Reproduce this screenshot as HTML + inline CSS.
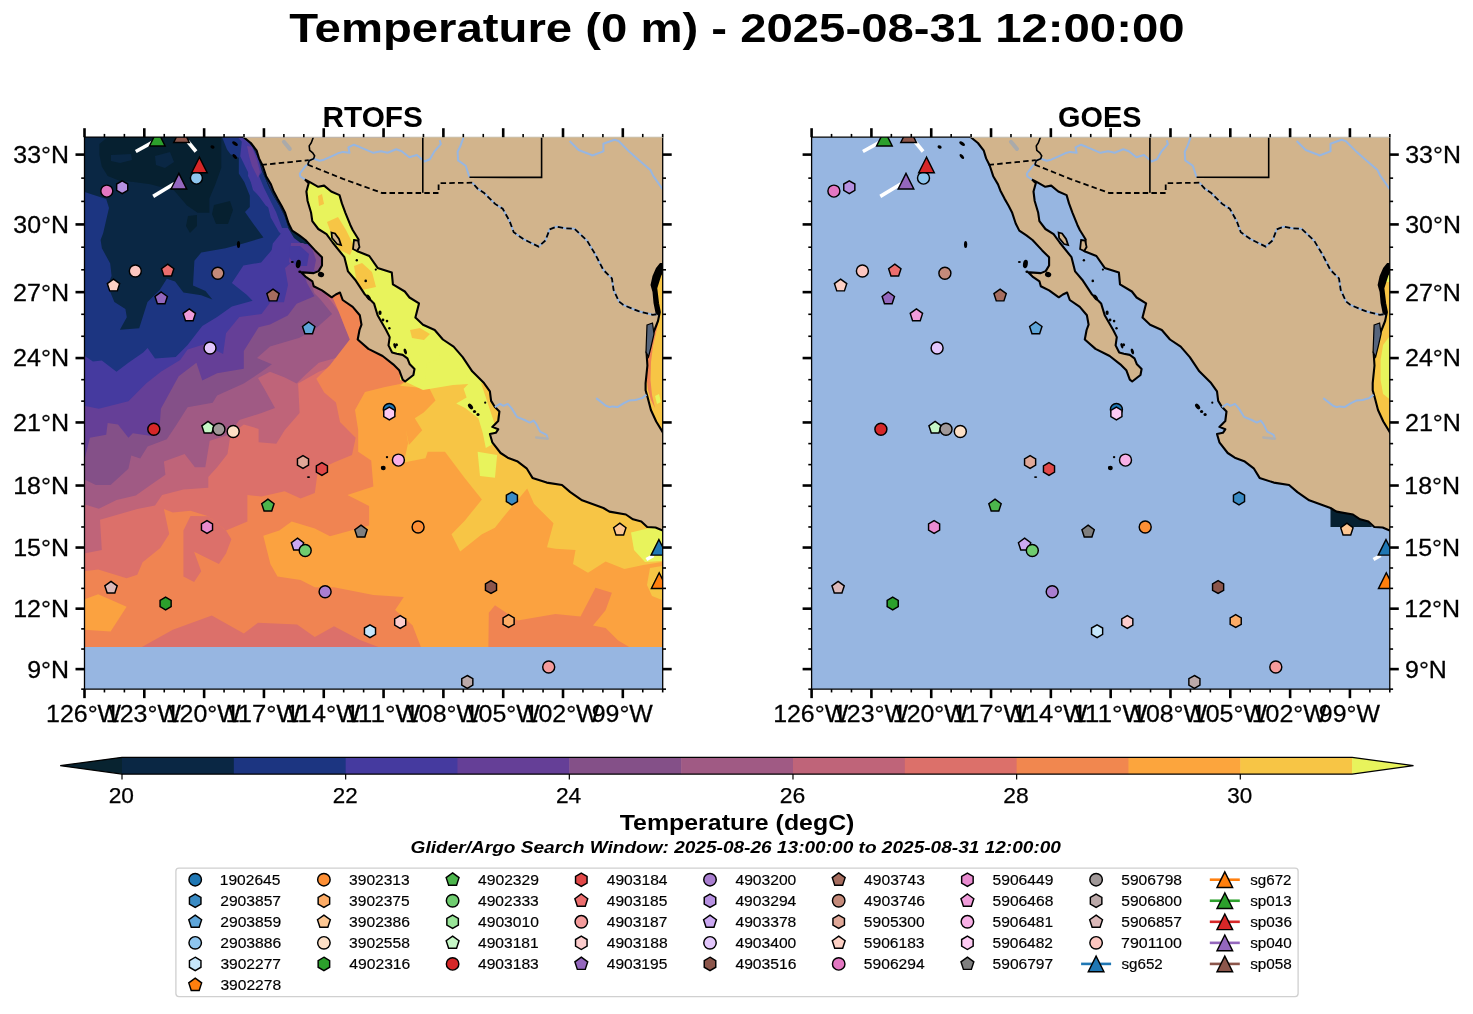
<!DOCTYPE html><html><head><meta charset="utf-8"><style>html,body{margin:0;padding:0;background:#fff;width:1473px;height:1014px;overflow:hidden} text{font-family:"Liberation Sans",sans-serif}</style></head><body><svg width="1473" height="1014" viewBox="0 0 1473 1014" style="position:absolute;left:0;top:0;will-change:transform">
<rect width="1473" height="1014" fill="#fff"/>
<text x="289.22" y="42.10" font-size="40.34" font-weight="bold" font-style="normal" fill="#000" textLength="895.27" lengthAdjust="spacingAndGlyphs">Temperature (0 m) - 2025-08-31 12:00:00</text>
<g transform="translate(0,0)">
<defs><clipPath id="clipR"><rect x="84.5" y="137.2" width="578.2" height="551.94256834465"/></clipPath></defs>
<rect x="84.5" y="137.2" width="578.2" height="551.94256834465" fill="#97b6e1"/>
<g clip-path="url(#clipR)">
<clipPath id="dataclip"><rect x="80" y="130" width="600" height="516.9"/></clipPath>
<g clip-path="url(#dataclip)">
<rect x="80" y="130" width="600" height="600" fill="#1c3581"/>
<polygon points="84.0,137.0 222.0,137.0 227.0,149.4 230.5,154.3 238.8,157.7 238.8,173.6 244.3,181.9 249.8,195.7 249.8,207.0 245.0,212.0 252.0,222.0 263.4,237.6 243.3,243.5 225.5,248.2 201.3,252.4 194.4,260.7 193.0,285.6 205.5,291.1 212.4,299.4 201.3,295.2 183.4,292.5 175.1,281.4 166.8,278.7 159.9,289.7 147.5,302.1 139.2,328.3 119.9,329.7 126.8,317.3 125.4,309.0 114.4,302.1 107.5,285.6 111.6,275.9 110.2,263.5 101.9,248.3 100.6,240.0 103.2,233.0 106.2,220.0 109.0,208.0 106.2,199.0 93.0,194.7 84.0,191.7" fill="#0a2744"/>
<polygon points="99.4,144.1 107.7,137.0 221.3,137.0 221.3,167.8 215.4,184.3 209.4,198.5 209.4,212.7 197.6,212.7 187.0,205.6 173.9,190.3 159.7,186.7 150.3,184.3 133.7,182.0 119.5,180.8 107.7,176.1 101.8,166.6 99.4,154.8" fill="#062030"/>
<polygon points="111.0,155.0 131.0,154.0 132.0,160.0 120.0,163.0 111.0,161.0" fill="#0a2744"/>
<polygon points="155.0,156.0 170.0,152.0 174.0,162.0 165.0,168.0 156.0,165.0" fill="#0a2744"/>
<polygon points="214.0,205.0 230.0,201.0 233.0,210.0 228.0,224.0 216.0,224.0 212.0,214.0" fill="#062030"/>
<polygon points="188.0,216.0 197.0,215.0 197.0,226.0 190.0,233.0 186.0,226.0" fill="#062030"/>
<polygon points="84.0,355.4 92.9,361.4 101.8,360.6 116.5,371.7 128.4,362.8 143.2,352.5 147.6,348.0 155.0,358.4 175.7,356.9 187.6,345.1 202.3,325.9 217.1,317.0 231.9,306.6 252.6,300.7 246.7,294.8 231.9,283.0 243.4,265.6 261.1,262.4 272.3,249.5 286.8,239.9 278.8,231.8 270.7,217.4 267.5,204.5 253.0,190.0 248.2,172.4 240.2,156.3 241.8,141.8 240.0,130.0 720.0,130.0 720.0,700.0 80.0,700.0" fill="#453a9f"/>
<polygon points="237.3,137.0 246.8,146.5 249.2,160.7 248.0,176.0 256.3,192.6 265.7,205.6 272.8,210.4 282.3,231.7 272.8,243.5 270.5,257.0 300.0,257.0 300.0,137.0" fill="#453a9f"/>
<polygon points="247.0,146.0 252.0,147.0 257.0,160.0 260.0,172.0 258.0,178.0 252.0,166.0 249.0,156.0" fill="#653f97"/>
<polygon points="243.0,137.0 252.0,146.0 258.0,158.0 262.0,172.0 268.0,186.0 273.0,196.0 279.0,206.0 284.0,216.0 288.0,228.0 294.0,238.0 302.0,244.0 310.0,244.0 300.0,236.0 290.0,226.0 284.0,212.0 276.0,198.0 269.0,184.0 263.0,170.0 258.0,156.0 252.0,144.0 246.0,137.0" fill="#0a2744"/>
<polygon points="262.0,172.0 268.0,186.0 273.0,196.0 279.0,206.0 284.0,216.0 288.0,228.0 282.0,228.0 276.0,212.0 270.0,200.0 264.0,188.0 259.0,176.0" fill="#1c3581"/>
<polygon points="84.0,405.7 98.8,408.7 128.4,401.3 146.1,383.6 160.9,371.7 180.2,359.9 187.6,349.5 206.8,343.6 217.1,351.0 223.1,354.0 226.0,333.3 239.3,317.0 261.5,314.0 270.4,302.2 284.0,302.2 288.0,285.0 285.0,268.0 292.0,262.0 303.0,250.0 310.0,246.0 320.0,240.0 720.0,130.0 720.0,700.0 80.0,700.0" fill="#653f97"/>
<polygon points="84.0,420.0 84.0,461.4 89.9,437.8 106.2,434.8 107.7,423.0 118.0,424.4 128.4,437.8 132.8,433.3 153.5,436.3 159.4,430.0 160.9,408.7 178.7,376.2 196.4,362.8 202.3,380.6 217.1,373.2 243.8,368.8 243.8,351.0 258.6,327.3 270.0,324.4 287.8,315.5 296.6,303.7 314.4,296.3 307.0,283.0 303.0,270.0 310.0,250.0 720.0,130.0 720.0,700.0 80.0,700.0" fill="#845088"/>
<polygon points="84.0,479.2 95.8,485.1 110.6,485.1 128.4,468.8 131.3,455.5 140.2,458.5 147.6,446.6 166.8,439.2 175.7,425.9 187.6,407.2 212.7,402.8 217.1,395.4 243.8,383.6 261.5,371.7 271.9,364.3 257.0,358.0 270.0,346.6 299.6,337.7 317.3,327.3 332.1,314.0 320.3,299.2 314.4,293.3 310.0,280.0 315.0,260.0 720.0,130.0 720.0,700.0 80.0,700.0" fill="#a05a84"/>
<polygon points="84.0,504.3 98.8,508.8 116.5,499.9 135.8,495.4 150.6,485.1 165.4,474.7 163.9,461.4 184.6,454.0 194.9,467.3 205.3,467.3 209.7,440.7 229.0,434.8 239.3,420.0 261.5,413.1 275.0,408.0 265.0,390.0 258.0,378.0 270.0,371.7 284.8,377.6 296.6,383.6 305.5,374.7 318.8,362.8 339.5,356.9 352.8,343.6 345.4,328.8 339.5,312.5 332.1,302.2 323.3,291.8 318.0,270.0 720.0,130.0 720.0,700.0 80.0,700.0" fill="#bf6479"/>
<polygon points="84.0,553.5 101.8,549.9 100.0,519.7 137.3,509.1 155.0,505.5 162.1,494.9 183.4,489.5 208.3,487.8 208.3,477.1 217.1,467.3 227.5,454.0 230.5,434.8 243.8,424.4 258.6,428.9 258.6,442.2 276.3,443.7 284.8,430.0 299.6,413.1 298.1,383.6 318.8,371.7 341.0,362.8 358.8,349.5 349.9,328.8 344.0,306.6 335.1,297.8 329.2,294.8 325.0,275.0 720.0,130.0 720.0,700.0 80.0,700.0" fill="#dc706a"/>
<polygon points="84.0,571.2 98.2,569.4 126.6,578.3 137.3,574.8 142.6,562.3 160.3,548.1 169.2,533.9 163.9,509.1 172.8,512.6 190.5,510.8 208.3,516.2 226.0,530.4 247.4,521.5 247.4,494.9 261.6,496.6 284.6,491.3 300.6,498.4 314.8,493.1 318.0,470.0 335.0,462.0 352.0,455.0 355.7,437.8 340.0,422.0 336.0,402.4 324.2,392.5 316.3,378.8 330.1,365.0 349.8,339.4 338.0,309.8 332.1,296.3 330.0,280.0 720.0,130.0 720.0,700.0 80.0,700.0" fill="#f08452"/>
<polygon points="183.4,530.4 183.4,576.5 194.1,581.9 201.2,571.2 194.1,551.7 218.9,564.1 226.0,553.5 231.4,539.2 226.0,530.4 208.3,516.2 190.5,516.0" fill="#dc706a"/>
<polygon points="84.0,599.6 98.2,594.3 126.6,606.7 110.6,631.6 84.0,629.8" fill="#fba240"/>
<polygon points="358.2,430.0 358.2,451.7 371.2,460.4 373.4,486.4 347.4,495.1 369.1,506.0 369.1,525.5 330.0,536.3 314.8,528.6 291.7,521.5 279.3,530.4 263.3,535.7 270.4,564.1 277.5,576.5 300.6,580.1 314.8,587.2 334.0,587.2 373.4,594.9 403.8,597.1 395.1,610.1 412.5,625.3 421.1,647.5 488.4,647.5 488.8,612.8 495.0,605.3 517.7,620.4 555.4,614.1 580.5,616.6 595.5,587.7 611.9,592.7 605.6,610.3 593.0,625.4 605.6,627.9 618.2,640.5 630.0,647.5 700.0,647.5 700.0,130.0 420.0,130.0 405.0,382.0 400.0,384.0 385.0,387.0 365.0,392.0 355.0,410.0" fill="#fba240"/>
<polygon points="140.8,647.6 172.8,629.8 211.8,615.6 243.8,633.4 258.0,622.7 297.1,624.5 314.8,636.9 334.0,626.2 360.0,640.0 380.0,647.6" fill="#dc706a"/>
<polygon points="406.0,430.0 408.1,443.0 403.8,462.6 425.5,458.2 427.7,451.7 445.0,451.7 464.5,477.7 481.9,499.4 464.5,521.1 451.5,534.2 460.2,551.5 481.9,534.2 494.9,527.7 503.6,516.8 527.2,488.4 534.0,503.8 547.0,516.8 553.5,523.3 547.0,547.2 555.4,548.8 575.5,550.0 573.0,563.9 588.0,572.7 605.6,561.4 624.4,568.9 643.3,565.1 662.0,562.0 700.0,562.0 700.0,130.0 410.0,130.0 405.0,382.0 400.0,385.8 414.8,387.3 429.6,388.8 435.5,400.6 423.7,412.4 414.8,418.3 422.2,430.2 408.9,445.0" fill="#f7c545"/>
<polygon points="291.0,243.0 303.0,243.0 316.0,250.0 321.0,260.0 318.0,272.0 300.0,273.0 289.0,262.0" fill="#653f97"/>
<polygon points="290.0,246.0 300.0,246.0 309.0,254.0 307.0,266.0 296.0,266.0 289.0,257.0" fill="#453a9f"/>
<polygon points="312.0,248.0 318.0,252.0 322.0,262.0 319.0,271.0 314.0,270.0 316.0,260.0" fill="#845088"/>
<polygon points="305.2,179.7 308.7,183.3 306.4,191.5 307.6,201.0 311.1,212.8 312.3,221.1 318.3,229.0 326.5,234.1 332.6,242.5 344.4,257.2 348.0,271.4 355.1,279.7 364.5,293.9 374.0,303.4 377.6,315.2 386.1,330.0 389.7,337.1 388.5,345.4 392.1,352.5 396.8,353.7 402.7,354.9 407.4,358.4 409.8,364.3 414.5,369.0 413.4,375.0 405.1,381.5 423.0,390.0 453.0,385.0 484.0,383.1 472.2,371.3 462.7,357.1 453.6,346.6 442.9,339.5 434.7,330.0 423.0,324.7 415.4,317.6 419.0,303.4 409.5,297.5 404.8,291.5 392.9,284.4 391.8,272.6 377.6,267.9 369.3,256.0 357.4,251.3 358.6,239.5 352.7,230.0 350.2,224.7 345.4,212.8 341.9,203.4 339.5,195.1 331.2,191.5 324.1,185.6 318.2,186.8 309.9,182.1" fill="#e8f35c"/>
<polygon points="400.0,300.0 408.9,300.0 413.3,311.8 414.8,322.2 434.0,332.5 441.4,344.4 438.5,359.2 426.6,363.6 425.1,379.9 417.8,382.8 400.0,380.0" fill="#e8f35c"/>
<polygon points="456.2,368.0 463.6,369.5 469.5,382.8 463.6,388.8 466.6,397.6 456.2,403.6 465.1,408.0 478.4,418.3 482.8,433.1 485.8,447.9 500.0,440.0 480.0,380.0 470.0,360.0" fill="#e8f35c"/>
<polygon points="327.0,222.0 338.0,217.0 346.0,230.0 354.0,246.0 350.0,255.0 340.0,250.0 332.0,236.0" fill="#f7c545"/>
<polygon points="354.0,266.0 362.0,263.0 372.0,272.0 376.0,287.0 362.0,290.0 356.0,278.0" fill="#f7c545"/>
<polygon points="318.0,196.0 322.0,194.0 324.0,204.0 319.0,206.0" fill="#f7c545"/>
<polygon points="410.0,330.0 420.0,328.0 430.0,334.0 424.0,340.0 412.0,338.0" fill="#f7c545"/>
<polygon points="422.0,298.0 432.0,297.0 444.0,310.0 440.0,323.0 428.0,316.0" fill="#f7c545"/>
<polygon points="465.0,356.0 478.0,354.0 487.0,362.0 476.0,368.0" fill="#f7c545"/>
<polygon points="477.6,451.7 497.1,455.0 495.0,477.7 480.0,476.0" fill="#e8f35c"/>
<polygon points="650.0,568.0 662.0,566.0 662.0,600.0 652.0,596.0 647.0,585.0" fill="#f7c545"/>
<polygon points="631.0,532.5 662.0,525.0 662.0,561.0 645.0,562.0 634.0,550.0" fill="#e8f35c"/>
</g>
<polygon points="663.3,268.0 659.8,276.6 656.2,288.2 658.0,303.2 659.8,312.1 658.0,321.0 653.3,333.0 650.0,341.0 646.5,352.2 647.4,365.5 645.6,383.2 645.6,390.3 647.4,396.5 650.9,410.0 656.2,421.5 663.3,433.1 665.0,433.1 665.0,268.0" fill="#f7c545"/>
<polygon points="655,322 651,334 648,348 646.5,362 646.5,378 648,390 651,400 655,408 652,395 650.5,380 651,362 653,346 656,333 658,324" fill="#f08452"/>
<polygon points="655,396 659,394 661,402 657,404" fill="#e8f35c"/>
<path d="M243.7,136.0 L243.7,137.3 L250.8,143.0 L256.7,150.7 L259.0,158.4 L262.6,165.5 L266.1,176.2 L270.9,184.4 L273.2,190.4 L277.4,198.6 L281.5,205.7 L285.1,212.8 L288.6,223.5 L292.2,230.6 L299.3,235.3 L305.4,240.0 L315.1,250.4 L322.0,257.3 L322.0,265.5 L318.6,271.1 L313.7,273.1 L302.7,272.4 L301.3,272.6 L305.4,276.6 L312.4,281.4 L313.7,286.2 L322.0,290.4 L331.7,297.3 L335.8,294.5 L340.0,292.5 L342.7,300.0 L352.7,306.9 L359.8,315.2 L361.5,324.7 L359.5,330.0 L357.7,339.5 L368.4,348.9 L382.6,356.0 L393.2,364.3 L399.2,370.2 L402.7,379.7 L405.1,381.5 L413.4,375.0 L414.5,369.0 L409.8,364.3 L407.4,358.4 L402.7,354.9 L396.8,353.7 L392.1,352.5 L388.5,345.4 L389.7,337.1 L386.1,330.0 L377.6,315.2 L374.0,303.4 L364.5,293.9 L355.1,279.7 L348.0,271.4 L344.4,257.2 L332.6,242.5 L326.5,234.1 L318.3,229.0 L312.3,221.1 L311.1,212.8 L307.6,201.0 L306.4,191.5 L308.7,183.3 L305.2,179.7 L309.9,182.1 L318.2,186.8 L324.1,185.6 L331.2,191.5 L339.5,195.1 L341.9,203.4 L345.4,212.8 L350.2,224.7 L352.7,230.0 L358.6,239.5 L357.4,251.3 L369.3,256.0 L377.6,267.9 L391.8,272.6 L392.9,284.4 L404.8,291.5 L409.5,297.5 L419.0,303.4 L415.4,317.6 L423.0,324.7 L434.7,330.0 L442.9,339.5 L453.6,346.6 L462.7,357.1 L472.2,371.3 L484.0,383.1 L489.9,391.4 L491.1,400.9 L494.7,406.8 L499.4,411.5 L498.2,421.0 L492.3,426.9 L498.2,429.3 L495.8,432.8 L489.9,434.0 L492.3,442.3 L500.6,453.0 L507.7,457.7 L517.1,461.2 L526.6,468.3 L532.5,477.9 L546.7,482.6 L562.0,485.0 L570.3,492.1 L582.1,500.3 L603.4,508.0 L609.4,511.6 L625.9,514.5 L633.0,519.3 L641.3,521.6 L647.2,527.0 L655.5,527.5 L665.0,531.5 L665.0,433.1 L663.3,433.1 L656.2,421.5 L650.9,410.0 L647.4,396.5 L645.6,390.3 L645.6,383.2 L647.4,365.5 L646.5,352.2 L650.0,341.0 L653.3,333.0 L658.0,321.0 L659.8,312.1 L658.0,303.2 L656.2,288.2 L659.8,276.6 L663.3,268.0 L665.0,268.0 L665.0,136.0Z" fill="#d2b48c" stroke="#000" stroke-width="2.1" stroke-linejoin="round"/>
<polyline points="304.8,179.4 300.3,176.5 299.8,173.5 302.8,169.6 305.8,165.6 307.7,164.7 309.2,160.7 313.6,158.7 319.6,160.7 324.0,159.7 330.4,156.8 338.0,153.3 343.1,151.9 349.5,152.8 348.4,147.4 353.9,144.7 359.3,146.8 373.4,152.8 381.0,151.2 387.5,152.8 396.2,149.3 401.7,151.2 409.3,157.2 416.9,155.0 424.5,161.5 429.9,159.3 434.2,151.7 440.8,144.1 439.7,140.3" fill="none" stroke="#97b6e1" stroke-width="2" stroke-linejoin="round"/>
<polyline points="469.5,177.3 465.7,165.8 458.1,160.4 457.6,151.7 460.3,146.3 463.6,137.1" fill="none" stroke="#97b6e1" stroke-width="2" stroke-linejoin="round"/>
<polyline points="569.6,141.0 578.6,150.0 589.6,154.2 592.4,155.5 603.4,151.4 603.4,143.8 614.5,139.7 618.6,141.0 629.7,152.1 639.3,160.4 650.4,170.0 653.1,175.6 662.8,189.4" fill="none" stroke="#97b6e1" stroke-width="2" stroke-linejoin="round"/>
<polyline points="494.9,407.1 500.1,403.9 503.3,405.8 507.8,403.9 511.7,408.4 516.9,416.8 524.6,420.0 529.8,422.6 533.6,420.6 536.2,423.9 540.1,431.6 546.5,434.8 547.8,438.7" fill="none" stroke="#97b6e1" stroke-width="2" stroke-linejoin="round"/>
<polyline points="596.2,398.1 605.9,405.8 609.7,407.1 612.3,406.4 617.5,407.1 623.9,403.2 629.1,400.6 635.5,400.0 642.0,398.1 646.5,394.8" fill="none" stroke="#97b6e1" stroke-width="2" stroke-linejoin="round"/>
<polyline points="472.3,182.7 477.7,188.7 484.2,193.0 495.1,203.9 502.7,208.7 509.6,221.1 513.7,232.2 523.4,239.1 538.6,246.6 545.5,240.4 549.6,229.4 556.5,226.6 564.8,228.3 574.4,228.7 586.9,240.4 595.2,254.2 603.4,270.0 611.9,278.4 613.6,289.9 619.0,301.5 623.4,305.0 638.5,311.2 652.7,314.8 658.9,313.9" fill="none" stroke="#97b6e1" stroke-width="2" stroke-linejoin="round"/>
<polyline points="283.9,141.8 289.8,148.9" fill="none" stroke="#aaaaaa" stroke-width="4" stroke-linecap="round"/>
<polyline points="536.2,437.4 547.8,438.7" fill="none" stroke="#b0b0b0" stroke-width="2.5" stroke-linecap="round"/>
<polyline points="313.8,136.0 311.2,143.0 309.2,145.9 309.7,150.4 312.7,152.8 314.6,155.8 313.6,158.7 309.2,160.7 307.7,164.7" fill="none" stroke="#000" stroke-width="1.6"/>
<polyline points="422.8,137.0 422.8,192.8" fill="none" stroke="#000" stroke-width="1.6"/>
<polyline points="541.6,137.0 541.6,177.4 469.5,177.3" fill="none" stroke="#000" stroke-width="1.6"/>
<polyline points="261.4,164.9 308.7,160.2" fill="none" stroke="#000" stroke-width="1.8" stroke-dasharray="5.5,3.2"/>
<polyline points="307.7,164.7 343.0,178.9 382.1,193.0 438.6,193.0 438.6,183.2 472.3,182.7 477.7,188.7 484.2,193.0 495.1,203.9 502.7,208.7 509.6,221.1 513.7,232.2 523.4,239.1 538.6,246.6 545.5,240.4 549.6,229.4 556.5,226.6 564.8,228.3 574.4,228.7 586.9,240.4 595.2,254.2 603.4,270.0 611.9,278.4 613.6,289.9 619.0,301.5 623.4,305.0 638.5,311.2 652.7,314.8 658.9,313.9" fill="none" stroke="#000" stroke-width="1.8" stroke-dasharray="5.5,3.2"/>
<ellipse cx="212.5" cy="147.0" rx="2.2" ry="1.6" transform="rotate(30 212.5 147.0)" fill="#000"/>
<ellipse cx="235.0" cy="143.6" rx="3.2" ry="1.6" transform="rotate(35 235.0 143.6)" fill="#000"/>
<ellipse cx="234.8" cy="156.5" rx="3.0" ry="1.5" transform="rotate(50 234.8 156.5)" fill="#000"/>
<ellipse cx="238.5" cy="244.6" rx="1.6" ry="3.5" transform="rotate(0 238.5 244.6)" fill="#000"/>
<ellipse cx="298.3" cy="264.0" rx="2.4" ry="4.2" transform="rotate(10 298.3 264.0)" fill="#000"/>
<ellipse cx="292.3" cy="262.1" rx="1.5" ry="1.0" transform="rotate(0 292.3 262.1)" fill="#000"/>
<ellipse cx="299.9" cy="271.7" rx="1.6" ry="1.2" transform="rotate(0 299.9 271.7)" fill="#000"/>
<ellipse cx="321.0" cy="274.5" rx="3.2" ry="2.6" transform="rotate(20 321.0 274.5)" fill="#000"/>
<ellipse cx="383.3" cy="468.0" rx="2.4" ry="2.2" transform="rotate(0 383.3 468.0)" fill="#000"/>
<ellipse cx="387.0" cy="457.1" rx="1.2" ry="1.2" transform="rotate(0 387.0 457.1)" fill="#000"/>
<ellipse cx="308.5" cy="477.1" rx="1.6" ry="0.9" transform="rotate(0 308.5 477.1)" fill="#000"/>
<ellipse cx="382.3" cy="467.7" rx="1.4" ry="1.4" transform="rotate(0 382.3 467.7)" fill="#000"/>
<ellipse cx="356.8" cy="260.2" rx="1.2" ry="1.2" transform="rotate(0 356.8 260.2)" fill="#000"/>
<ellipse cx="375.8" cy="269.6" rx="1.1" ry="1.1" transform="rotate(0 375.8 269.6)" fill="#000"/>
<ellipse cx="365.7" cy="280.9" rx="1.3" ry="1.3" transform="rotate(0 365.7 280.9)" fill="#000"/>
<ellipse cx="368.5" cy="297.5" rx="1.8" ry="3.2" transform="rotate(-35 368.5 297.5)" fill="#000"/>
<ellipse cx="380.0" cy="312.8" rx="1.6" ry="2.2" transform="rotate(0 380.0 312.8)" fill="#000"/>
<ellipse cx="383.0" cy="320.0" rx="1.4" ry="1.4" transform="rotate(0 383.0 320.0)" fill="#000"/>
<ellipse cx="387.0" cy="321.1" rx="1.3" ry="1.3" transform="rotate(0 387.0 321.1)" fill="#000"/>
<ellipse cx="389.4" cy="328.2" rx="1.2" ry="1.2" transform="rotate(0 389.4 328.2)" fill="#000"/>
<ellipse cx="396.5" cy="344.8" rx="1.5" ry="1.5" transform="rotate(0 396.5 344.8)" fill="#000"/>
<ellipse cx="394.8" cy="345.8" rx="1.3" ry="2.8" transform="rotate(-20 394.8 345.8)" fill="#000"/>
<ellipse cx="405.3" cy="351.5" rx="1.5" ry="3.0" transform="rotate(-20 405.3 351.5)" fill="#000"/>
<ellipse cx="470.5" cy="406.5" rx="2.0" ry="3.2" transform="rotate(-40 470.5 406.5)" fill="#000"/>
<ellipse cx="474.5" cy="411.5" rx="1.6" ry="1.6" transform="rotate(0 474.5 411.5)" fill="#000"/>
<ellipse cx="478.0" cy="414.5" rx="1.6" ry="1.5" transform="rotate(0 478.0 414.5)" fill="#000"/>
<ellipse cx="485.2" cy="402.7" rx="1.1" ry="1.1" transform="rotate(0 485.2 402.7)" fill="#000"/>
<polygon points="331.5,232.5 335.0,233.5 339.0,239 341.0,245 337.0,244 332.0,238" fill="#d2b48c" stroke="#000" stroke-width="1.8"/>
<polygon points="354.0,240 358.0,240.5 359.5,247 357.0,251 353.0,249" fill="#d2b48c" stroke="#000" stroke-width="1.8"/>
<polygon points="660.0,263.0 663.5,263.0 663.5,272.0 659.5,277.0 656.2,288.0 658.0,303.0 659.8,312.0 658.5,316.0 655.5,313.0 653.5,303.0 652.5,292.0 650.5,285.0 652.5,276.0 656.0,268.0" fill="#000"/>
<polygon points="647.0,325.0 652.5,323.0 654.0,334.0 651.0,347.0 648.5,357.0 646.0,352.0 646.5,338.0" fill="#56657c" stroke="#000" stroke-width="1.2"/>
<polyline points="135.8,151.5 157.3,139.7" fill="none" stroke="#fff" stroke-width="3.6"/>
<polyline points="187.8,141.5 196.0,151.5" fill="none" stroke="#fff" stroke-width="3.6"/>
<polyline points="153.2,196.4 174.5,183.5" fill="none" stroke="#fff" stroke-width="3.6"/>
<polyline points="646.4,559.5 653.5,555.5" fill="none" stroke="#fff" stroke-width="3.6"/>
<polygon points="157.30,130.30 149.50,145.90 165.10,145.90" fill="#2ca02c" stroke="#000" stroke-width="1.45" stroke-linejoin="miter"/>
<polygon points="181.50,126.80 173.70,142.40 189.30,142.40" fill="#8c564b" stroke="#000" stroke-width="1.45" stroke-linejoin="miter"/>
<circle cx="196.40" cy="178.10" r="6.00" fill="#8ec5ee" stroke="#000" stroke-width="1.45"/>
<polygon points="199.40,157.20 191.60,172.80 207.20,172.80" fill="#d62728" stroke="#000" stroke-width="1.45" stroke-linejoin="miter"/>
<polygon points="178.90,173.40 171.10,189.00 186.70,189.00" fill="#9467bd" stroke="#000" stroke-width="1.45" stroke-linejoin="miter"/>
<circle cx="106.80" cy="191.10" r="6.00" fill="#e377c2" stroke="#000" stroke-width="1.45"/>
<polygon points="122.20,180.80 127.74,184.00 127.74,190.40 122.20,193.60 116.66,190.40 116.66,184.00" fill="#b690e0" stroke="#000" stroke-width="1.45" stroke-linejoin="miter"/>
<circle cx="135.30" cy="271.00" r="6.00" fill="#fcc6c0" stroke="#000" stroke-width="1.45"/>
<polygon points="167.70,264.20 173.88,268.69 171.52,275.96 163.88,275.96 161.52,268.69" fill="#ec6e6e" stroke="#000" stroke-width="1.45" stroke-linejoin="miter"/>
<circle cx="217.80" cy="273.20" r="6.00" fill="#c48a7a" stroke="#000" stroke-width="1.45"/>
<polygon points="113.50,279.10 119.68,283.59 117.32,290.86 109.68,290.86 107.32,283.59" fill="#fdd0c4" stroke="#000" stroke-width="1.45" stroke-linejoin="miter"/>
<polygon points="161.20,292.00 167.38,296.49 165.02,303.76 157.38,303.76 155.02,296.49" fill="#9467bd" stroke="#000" stroke-width="1.45" stroke-linejoin="miter"/>
<polygon points="273.00,289.10 279.18,293.59 276.82,300.86 269.18,300.86 266.82,293.59" fill="#a66d5f" stroke="#000" stroke-width="1.45" stroke-linejoin="miter"/>
<polygon points="189.30,308.90 195.48,313.39 193.12,320.66 185.48,320.66 183.12,313.39" fill="#f09cda" stroke="#000" stroke-width="1.45" stroke-linejoin="miter"/>
<polygon points="308.70,322.00 314.88,326.49 312.52,333.76 304.88,333.76 302.52,326.49" fill="#5ea5d9" stroke="#000" stroke-width="1.45" stroke-linejoin="miter"/>
<circle cx="210.00" cy="347.90" r="6.00" fill="#e2c6fb" stroke="#000" stroke-width="1.45"/>
<circle cx="153.80" cy="429.30" r="6.00" fill="#d62728" stroke="#000" stroke-width="1.45"/>
<polygon points="208.00,421.30 214.18,425.79 211.82,433.06 204.18,433.06 201.82,425.79" fill="#c6f7c6" stroke="#000" stroke-width="1.45" stroke-linejoin="miter"/>
<circle cx="218.90" cy="429.30" r="6.00" fill="#a09898" stroke="#000" stroke-width="1.45"/>
<circle cx="233.20" cy="431.50" r="6.00" fill="#fde0c6" stroke="#000" stroke-width="1.45"/>
<polygon points="303.00,455.60 308.54,458.80 308.54,465.20 303.00,468.40 297.46,465.20 297.46,458.80" fill="#e0a898" stroke="#000" stroke-width="1.45" stroke-linejoin="miter"/>
<polygon points="321.90,462.60 327.44,465.80 327.44,472.20 321.90,475.40 316.36,472.20 316.36,465.80" fill="#e14848" stroke="#000" stroke-width="1.45" stroke-linejoin="miter"/>
<polygon points="267.90,499.20 274.08,503.69 271.72,510.96 264.08,510.96 261.72,503.69" fill="#4cb54c" stroke="#000" stroke-width="1.45" stroke-linejoin="miter"/>
<polygon points="207.00,520.60 212.54,523.80 212.54,530.20 207.00,533.40 201.46,530.20 201.46,523.80" fill="#e98bd0" stroke="#000" stroke-width="1.45" stroke-linejoin="miter"/>
<polygon points="361.00,525.20 367.18,529.69 364.82,536.96 357.18,536.96 354.82,529.69" fill="#7f7f7f" stroke="#000" stroke-width="1.45" stroke-linejoin="miter"/>
<polygon points="297.50,538.20 303.68,542.69 301.32,549.96 293.68,549.96 291.32,542.69" fill="#cba8f2" stroke="#000" stroke-width="1.45" stroke-linejoin="miter"/>
<circle cx="305.20" cy="550.40" r="6.00" fill="#6fcc6f" stroke="#000" stroke-width="1.45"/>
<circle cx="325.10" cy="591.80" r="6.00" fill="#a97ed0" stroke="#000" stroke-width="1.45"/>
<polygon points="111.00,581.30 117.18,585.79 114.82,593.06 107.18,593.06 104.82,585.79" fill="#dbb9b9" stroke="#000" stroke-width="1.45" stroke-linejoin="miter"/>
<polygon points="165.60,597.10 171.14,600.30 171.14,606.70 165.60,609.90 160.06,606.70 160.06,600.30" fill="#2ca02c" stroke="#000" stroke-width="1.45" stroke-linejoin="miter"/>
<polygon points="370.00,624.80 375.54,628.00 375.54,634.40 370.00,637.60 364.46,634.40 364.46,628.00" fill="#c5e6fb" stroke="#000" stroke-width="1.45" stroke-linejoin="miter"/>
<circle cx="389.30" cy="409.40" r="6.00" fill="#1f77b4" stroke="#000" stroke-width="1.45"/>
<polygon points="389.30,407.10 394.84,410.30 394.84,416.70 389.30,419.90 383.76,416.70 383.76,410.30" fill="#fdcaf2" stroke="#000" stroke-width="1.45" stroke-linejoin="miter"/>
<circle cx="398.40" cy="460.10" r="6.00" fill="#f8b0e6" stroke="#000" stroke-width="1.45"/>
<polygon points="511.90,492.00 517.44,495.20 517.44,501.60 511.90,504.80 506.36,501.60 506.36,495.20" fill="#3a8bc4" stroke="#000" stroke-width="1.45" stroke-linejoin="miter"/>
<circle cx="418.10" cy="527.00" r="6.00" fill="#fd8f35" stroke="#000" stroke-width="1.45"/>
<polygon points="619.80,523.20 625.98,527.69 623.62,534.96 615.98,534.96 613.62,527.69" fill="#fdc793" stroke="#000" stroke-width="1.45" stroke-linejoin="miter"/>
<polygon points="658.90,539.50 651.10,555.10 666.70,555.10" fill="#1f77b4" stroke="#000" stroke-width="1.45" stroke-linejoin="miter"/>
<polygon points="659.20,572.80 651.40,588.40 667.00,588.40" fill="#ff7f0e" stroke="#000" stroke-width="1.45" stroke-linejoin="miter"/>
<polygon points="491.00,580.70 496.54,583.90 496.54,590.30 491.00,593.50 485.46,590.30 485.46,583.90" fill="#8c564b" stroke="#000" stroke-width="1.45" stroke-linejoin="miter"/>
<polygon points="400.20,615.60 405.74,618.80 405.74,625.20 400.20,628.40 394.66,625.20 394.66,618.80" fill="#fccccc" stroke="#000" stroke-width="1.45" stroke-linejoin="miter"/>
<polygon points="508.60,614.70 514.14,617.90 514.14,624.30 508.60,627.50 503.06,624.30 503.06,617.90" fill="#fdac66" stroke="#000" stroke-width="1.45" stroke-linejoin="miter"/>
<circle cx="548.70" cy="667.00" r="6.00" fill="#f49b9b" stroke="#000" stroke-width="1.45"/>
<polygon points="467.30,675.50 472.84,678.70 472.84,685.10 467.30,688.30 461.76,685.10 461.76,678.70" fill="#bba9a9" stroke="#000" stroke-width="1.45" stroke-linejoin="miter"/>
</g>
<polyline points="662.7,137.2 662.7,689.14256834465 84.5,689.14256834465 84.5,137.2 243.3,137.2" fill="none" stroke="#000" stroke-width="1.3"/>
<line x1="243.3" y1="137.2" x2="663.35" y2="137.2" stroke="#c9c2b6" stroke-width="1.0"/>
<line x1="84.50" y1="137.2" x2="84.50" y2="128.2" stroke="#000" stroke-width="2.6"/>
<line x1="84.50" y1="689.14256834465" x2="84.50" y2="698.14256834465" stroke="#000" stroke-width="2.6"/>
<line x1="104.44" y1="137.2" x2="104.44" y2="133.89999999999998" stroke="#000" stroke-width="1.6"/>
<line x1="104.44" y1="689.14256834465" x2="104.44" y2="692.44256834465" stroke="#000" stroke-width="1.6"/>
<line x1="124.38" y1="137.2" x2="124.38" y2="133.89999999999998" stroke="#000" stroke-width="1.6"/>
<line x1="124.38" y1="689.14256834465" x2="124.38" y2="692.44256834465" stroke="#000" stroke-width="1.6"/>
<line x1="144.31" y1="137.2" x2="144.31" y2="128.2" stroke="#000" stroke-width="2.6"/>
<line x1="144.31" y1="689.14256834465" x2="144.31" y2="698.14256834465" stroke="#000" stroke-width="2.6"/>
<line x1="164.25" y1="137.2" x2="164.25" y2="133.89999999999998" stroke="#000" stroke-width="1.6"/>
<line x1="164.25" y1="689.14256834465" x2="164.25" y2="692.44256834465" stroke="#000" stroke-width="1.6"/>
<line x1="184.19" y1="137.2" x2="184.19" y2="133.89999999999998" stroke="#000" stroke-width="1.6"/>
<line x1="184.19" y1="689.14256834465" x2="184.19" y2="692.44256834465" stroke="#000" stroke-width="1.6"/>
<line x1="204.13" y1="137.2" x2="204.13" y2="128.2" stroke="#000" stroke-width="2.6"/>
<line x1="204.13" y1="689.14256834465" x2="204.13" y2="698.14256834465" stroke="#000" stroke-width="2.6"/>
<line x1="224.07" y1="137.2" x2="224.07" y2="133.89999999999998" stroke="#000" stroke-width="1.6"/>
<line x1="224.07" y1="689.14256834465" x2="224.07" y2="692.44256834465" stroke="#000" stroke-width="1.6"/>
<line x1="244.00" y1="137.2" x2="244.00" y2="133.89999999999998" stroke="#000" stroke-width="1.6"/>
<line x1="244.00" y1="689.14256834465" x2="244.00" y2="692.44256834465" stroke="#000" stroke-width="1.6"/>
<line x1="263.94" y1="137.2" x2="263.94" y2="128.2" stroke="#000" stroke-width="2.6"/>
<line x1="263.94" y1="689.14256834465" x2="263.94" y2="698.14256834465" stroke="#000" stroke-width="2.6"/>
<line x1="283.88" y1="137.2" x2="283.88" y2="133.89999999999998" stroke="#000" stroke-width="1.6"/>
<line x1="283.88" y1="689.14256834465" x2="283.88" y2="692.44256834465" stroke="#000" stroke-width="1.6"/>
<line x1="303.82" y1="137.2" x2="303.82" y2="133.89999999999998" stroke="#000" stroke-width="1.6"/>
<line x1="303.82" y1="689.14256834465" x2="303.82" y2="692.44256834465" stroke="#000" stroke-width="1.6"/>
<line x1="323.76" y1="137.2" x2="323.76" y2="128.2" stroke="#000" stroke-width="2.6"/>
<line x1="323.76" y1="689.14256834465" x2="323.76" y2="698.14256834465" stroke="#000" stroke-width="2.6"/>
<line x1="343.69" y1="137.2" x2="343.69" y2="133.89999999999998" stroke="#000" stroke-width="1.6"/>
<line x1="343.69" y1="689.14256834465" x2="343.69" y2="692.44256834465" stroke="#000" stroke-width="1.6"/>
<line x1="363.63" y1="137.2" x2="363.63" y2="133.89999999999998" stroke="#000" stroke-width="1.6"/>
<line x1="363.63" y1="689.14256834465" x2="363.63" y2="692.44256834465" stroke="#000" stroke-width="1.6"/>
<line x1="383.57" y1="137.2" x2="383.57" y2="128.2" stroke="#000" stroke-width="2.6"/>
<line x1="383.57" y1="689.14256834465" x2="383.57" y2="698.14256834465" stroke="#000" stroke-width="2.6"/>
<line x1="403.51" y1="137.2" x2="403.51" y2="133.89999999999998" stroke="#000" stroke-width="1.6"/>
<line x1="403.51" y1="689.14256834465" x2="403.51" y2="692.44256834465" stroke="#000" stroke-width="1.6"/>
<line x1="423.44" y1="137.2" x2="423.44" y2="133.89999999999998" stroke="#000" stroke-width="1.6"/>
<line x1="423.44" y1="689.14256834465" x2="423.44" y2="692.44256834465" stroke="#000" stroke-width="1.6"/>
<line x1="443.38" y1="137.2" x2="443.38" y2="128.2" stroke="#000" stroke-width="2.6"/>
<line x1="443.38" y1="689.14256834465" x2="443.38" y2="698.14256834465" stroke="#000" stroke-width="2.6"/>
<line x1="463.32" y1="137.2" x2="463.32" y2="133.89999999999998" stroke="#000" stroke-width="1.6"/>
<line x1="463.32" y1="689.14256834465" x2="463.32" y2="692.44256834465" stroke="#000" stroke-width="1.6"/>
<line x1="483.26" y1="137.2" x2="483.26" y2="133.89999999999998" stroke="#000" stroke-width="1.6"/>
<line x1="483.26" y1="689.14256834465" x2="483.26" y2="692.44256834465" stroke="#000" stroke-width="1.6"/>
<line x1="503.20" y1="137.2" x2="503.20" y2="128.2" stroke="#000" stroke-width="2.6"/>
<line x1="503.20" y1="689.14256834465" x2="503.20" y2="698.14256834465" stroke="#000" stroke-width="2.6"/>
<line x1="523.13" y1="137.2" x2="523.13" y2="133.89999999999998" stroke="#000" stroke-width="1.6"/>
<line x1="523.13" y1="689.14256834465" x2="523.13" y2="692.44256834465" stroke="#000" stroke-width="1.6"/>
<line x1="543.07" y1="137.2" x2="543.07" y2="133.89999999999998" stroke="#000" stroke-width="1.6"/>
<line x1="543.07" y1="689.14256834465" x2="543.07" y2="692.44256834465" stroke="#000" stroke-width="1.6"/>
<line x1="563.01" y1="137.2" x2="563.01" y2="128.2" stroke="#000" stroke-width="2.6"/>
<line x1="563.01" y1="689.14256834465" x2="563.01" y2="698.14256834465" stroke="#000" stroke-width="2.6"/>
<line x1="582.95" y1="137.2" x2="582.95" y2="133.89999999999998" stroke="#000" stroke-width="1.6"/>
<line x1="582.95" y1="689.14256834465" x2="582.95" y2="692.44256834465" stroke="#000" stroke-width="1.6"/>
<line x1="602.89" y1="137.2" x2="602.89" y2="133.89999999999998" stroke="#000" stroke-width="1.6"/>
<line x1="602.89" y1="689.14256834465" x2="602.89" y2="692.44256834465" stroke="#000" stroke-width="1.6"/>
<line x1="622.82" y1="137.2" x2="622.82" y2="128.2" stroke="#000" stroke-width="2.6"/>
<line x1="622.82" y1="689.14256834465" x2="622.82" y2="698.14256834465" stroke="#000" stroke-width="2.6"/>
<line x1="642.76" y1="137.2" x2="642.76" y2="133.89999999999998" stroke="#000" stroke-width="1.6"/>
<line x1="642.76" y1="689.14256834465" x2="642.76" y2="692.44256834465" stroke="#000" stroke-width="1.6"/>
<line x1="662.70" y1="137.2" x2="662.70" y2="133.89999999999998" stroke="#000" stroke-width="1.6"/>
<line x1="662.70" y1="689.14256834465" x2="662.70" y2="692.44256834465" stroke="#000" stroke-width="1.6"/>
<line x1="84.5" y1="689.14" x2="81.2" y2="689.14" stroke="#000" stroke-width="1.6"/>
<line x1="662.7" y1="689.14" x2="666.0" y2="689.14" stroke="#000" stroke-width="1.6"/>
<line x1="84.5" y1="669.11" x2="75.5" y2="669.11" stroke="#000" stroke-width="2.6"/>
<line x1="662.7" y1="669.11" x2="671.7" y2="669.11" stroke="#000" stroke-width="2.6"/>
<line x1="84.5" y1="649.03" x2="81.2" y2="649.03" stroke="#000" stroke-width="1.6"/>
<line x1="662.7" y1="649.03" x2="666.0" y2="649.03" stroke="#000" stroke-width="1.6"/>
<line x1="84.5" y1="628.88" x2="81.2" y2="628.88" stroke="#000" stroke-width="1.6"/>
<line x1="662.7" y1="628.88" x2="666.0" y2="628.88" stroke="#000" stroke-width="1.6"/>
<line x1="84.5" y1="608.67" x2="75.5" y2="608.67" stroke="#000" stroke-width="2.6"/>
<line x1="662.7" y1="608.67" x2="671.7" y2="608.67" stroke="#000" stroke-width="2.6"/>
<line x1="84.5" y1="588.38" x2="81.2" y2="588.38" stroke="#000" stroke-width="1.6"/>
<line x1="662.7" y1="588.38" x2="666.0" y2="588.38" stroke="#000" stroke-width="1.6"/>
<line x1="84.5" y1="568.00" x2="81.2" y2="568.00" stroke="#000" stroke-width="1.6"/>
<line x1="662.7" y1="568.00" x2="666.0" y2="568.00" stroke="#000" stroke-width="1.6"/>
<line x1="84.5" y1="547.54" x2="75.5" y2="547.54" stroke="#000" stroke-width="2.6"/>
<line x1="662.7" y1="547.54" x2="671.7" y2="547.54" stroke="#000" stroke-width="2.6"/>
<line x1="84.5" y1="526.97" x2="81.2" y2="526.97" stroke="#000" stroke-width="1.6"/>
<line x1="662.7" y1="526.97" x2="666.0" y2="526.97" stroke="#000" stroke-width="1.6"/>
<line x1="84.5" y1="506.31" x2="81.2" y2="506.31" stroke="#000" stroke-width="1.6"/>
<line x1="662.7" y1="506.31" x2="666.0" y2="506.31" stroke="#000" stroke-width="1.6"/>
<line x1="84.5" y1="485.53" x2="75.5" y2="485.53" stroke="#000" stroke-width="2.6"/>
<line x1="662.7" y1="485.53" x2="671.7" y2="485.53" stroke="#000" stroke-width="2.6"/>
<line x1="84.5" y1="464.63" x2="81.2" y2="464.63" stroke="#000" stroke-width="1.6"/>
<line x1="662.7" y1="464.63" x2="666.0" y2="464.63" stroke="#000" stroke-width="1.6"/>
<line x1="84.5" y1="443.61" x2="81.2" y2="443.61" stroke="#000" stroke-width="1.6"/>
<line x1="662.7" y1="443.61" x2="666.0" y2="443.61" stroke="#000" stroke-width="1.6"/>
<line x1="84.5" y1="422.45" x2="75.5" y2="422.45" stroke="#000" stroke-width="2.6"/>
<line x1="662.7" y1="422.45" x2="671.7" y2="422.45" stroke="#000" stroke-width="2.6"/>
<line x1="84.5" y1="401.14" x2="81.2" y2="401.14" stroke="#000" stroke-width="1.6"/>
<line x1="662.7" y1="401.14" x2="666.0" y2="401.14" stroke="#000" stroke-width="1.6"/>
<line x1="84.5" y1="379.68" x2="81.2" y2="379.68" stroke="#000" stroke-width="1.6"/>
<line x1="662.7" y1="379.68" x2="666.0" y2="379.68" stroke="#000" stroke-width="1.6"/>
<line x1="84.5" y1="358.06" x2="75.5" y2="358.06" stroke="#000" stroke-width="2.6"/>
<line x1="662.7" y1="358.06" x2="671.7" y2="358.06" stroke="#000" stroke-width="2.6"/>
<line x1="84.5" y1="336.27" x2="81.2" y2="336.27" stroke="#000" stroke-width="1.6"/>
<line x1="662.7" y1="336.27" x2="666.0" y2="336.27" stroke="#000" stroke-width="1.6"/>
<line x1="84.5" y1="314.30" x2="81.2" y2="314.30" stroke="#000" stroke-width="1.6"/>
<line x1="662.7" y1="314.30" x2="666.0" y2="314.30" stroke="#000" stroke-width="1.6"/>
<line x1="84.5" y1="292.14" x2="75.5" y2="292.14" stroke="#000" stroke-width="2.6"/>
<line x1="662.7" y1="292.14" x2="671.7" y2="292.14" stroke="#000" stroke-width="2.6"/>
<line x1="84.5" y1="269.79" x2="81.2" y2="269.79" stroke="#000" stroke-width="1.6"/>
<line x1="662.7" y1="269.79" x2="666.0" y2="269.79" stroke="#000" stroke-width="1.6"/>
<line x1="84.5" y1="247.22" x2="81.2" y2="247.22" stroke="#000" stroke-width="1.6"/>
<line x1="662.7" y1="247.22" x2="666.0" y2="247.22" stroke="#000" stroke-width="1.6"/>
<line x1="84.5" y1="224.42" x2="75.5" y2="224.42" stroke="#000" stroke-width="2.6"/>
<line x1="662.7" y1="224.42" x2="671.7" y2="224.42" stroke="#000" stroke-width="2.6"/>
<line x1="84.5" y1="201.40" x2="81.2" y2="201.40" stroke="#000" stroke-width="1.6"/>
<line x1="662.7" y1="201.40" x2="666.0" y2="201.40" stroke="#000" stroke-width="1.6"/>
<line x1="84.5" y1="178.13" x2="81.2" y2="178.13" stroke="#000" stroke-width="1.6"/>
<line x1="662.7" y1="178.13" x2="666.0" y2="178.13" stroke="#000" stroke-width="1.6"/>
<line x1="84.5" y1="154.60" x2="75.5" y2="154.60" stroke="#000" stroke-width="2.6"/>
<line x1="662.7" y1="154.60" x2="671.7" y2="154.60" stroke="#000" stroke-width="2.6"/>
</g>
<text x="46.07" y="721.70" font-size="23.79" font-weight="normal" font-style="normal" fill="#000" stroke="#000" stroke-width="0.27" textLength="75.06" lengthAdjust="spacingAndGlyphs">126°W</text>
<text x="105.88" y="721.70" font-size="23.79" font-weight="normal" font-style="normal" fill="#000" stroke="#000" stroke-width="0.27" textLength="75.06" lengthAdjust="spacingAndGlyphs">123°W</text>
<text x="165.69" y="721.70" font-size="23.79" font-weight="normal" font-style="normal" fill="#000" stroke="#000" stroke-width="0.27" textLength="75.06" lengthAdjust="spacingAndGlyphs">120°W</text>
<text x="225.51" y="721.70" font-size="23.79" font-weight="normal" font-style="normal" fill="#000" stroke="#000" stroke-width="0.27" textLength="75.06" lengthAdjust="spacingAndGlyphs">117°W</text>
<text x="285.32" y="721.70" font-size="23.79" font-weight="normal" font-style="normal" fill="#000" stroke="#000" stroke-width="0.27" textLength="75.06" lengthAdjust="spacingAndGlyphs">114°W</text>
<text x="345.13" y="721.70" font-size="23.79" font-weight="normal" font-style="normal" fill="#000" stroke="#000" stroke-width="0.27" textLength="75.06" lengthAdjust="spacingAndGlyphs">111°W</text>
<text x="404.95" y="721.70" font-size="23.79" font-weight="normal" font-style="normal" fill="#000" stroke="#000" stroke-width="0.27" textLength="75.06" lengthAdjust="spacingAndGlyphs">108°W</text>
<text x="464.76" y="721.70" font-size="23.79" font-weight="normal" font-style="normal" fill="#000" stroke="#000" stroke-width="0.27" textLength="75.06" lengthAdjust="spacingAndGlyphs">105°W</text>
<text x="524.58" y="721.70" font-size="23.79" font-weight="normal" font-style="normal" fill="#000" stroke="#000" stroke-width="0.27" textLength="75.06" lengthAdjust="spacingAndGlyphs">102°W</text>
<text x="591.74" y="721.70" font-size="23.79" font-weight="normal" font-style="normal" fill="#000" stroke="#000" stroke-width="0.27" textLength="61.09" lengthAdjust="spacingAndGlyphs">99°W</text>
<text x="27.15" y="677.51" font-size="23.79" font-weight="normal" font-style="normal" fill="#000" stroke="#000" stroke-width="0.27" textLength="41.89" lengthAdjust="spacingAndGlyphs">9°N</text>
<text x="13.18" y="617.07" font-size="23.79" font-weight="normal" font-style="normal" fill="#000" stroke="#000" stroke-width="0.27" textLength="55.86" lengthAdjust="spacingAndGlyphs">12°N</text>
<text x="13.18" y="555.94" font-size="23.79" font-weight="normal" font-style="normal" fill="#000" stroke="#000" stroke-width="0.27" textLength="55.86" lengthAdjust="spacingAndGlyphs">15°N</text>
<text x="13.18" y="493.93" font-size="23.79" font-weight="normal" font-style="normal" fill="#000" stroke="#000" stroke-width="0.27" textLength="55.86" lengthAdjust="spacingAndGlyphs">18°N</text>
<text x="13.00" y="430.85" font-size="23.79" font-weight="normal" font-style="normal" fill="#000" stroke="#000" stroke-width="0.27" textLength="56.04" lengthAdjust="spacingAndGlyphs">21°N</text>
<text x="13.00" y="366.46" font-size="23.79" font-weight="normal" font-style="normal" fill="#000" stroke="#000" stroke-width="0.27" textLength="56.04" lengthAdjust="spacingAndGlyphs">24°N</text>
<text x="13.00" y="300.54" font-size="23.79" font-weight="normal" font-style="normal" fill="#000" stroke="#000" stroke-width="0.27" textLength="56.04" lengthAdjust="spacingAndGlyphs">27°N</text>
<text x="13.38" y="232.82" font-size="23.79" font-weight="normal" font-style="normal" fill="#000" stroke="#000" stroke-width="0.27" textLength="55.65" lengthAdjust="spacingAndGlyphs">30°N</text>
<text x="13.38" y="163.00" font-size="23.79" font-weight="normal" font-style="normal" fill="#000" stroke="#000" stroke-width="0.27" textLength="55.65" lengthAdjust="spacingAndGlyphs">33°N</text>
<g transform="translate(727.1,0)">
<defs><clipPath id="clipG"><rect x="84.5" y="137.2" width="578.2" height="551.94256834465"/></clipPath></defs>
<rect x="84.5" y="137.2" width="578.2" height="551.94256834465" fill="#97b6e1"/>
<g clip-path="url(#clipG)">
<polygon points="603.4,508 612,511 626,514.5 633,519.3 641,521.6 645,527 603.4,527" fill="#062030"/>
<polygon points="663.3,268.0 659.8,276.6 656.2,288.2 658.0,303.2 659.8,312.1 658.0,321.0 653.3,333.0 650.0,341.0 646.5,352.2 647.4,365.5 645.6,383.2 645.6,390.3 647.4,396.5 650.9,410.0 656.2,421.5 663.3,433.1 665.0,433.1 665.0,268.0" fill="#f7c545"/>
<polygon points="663.5,335 656,345 653.5,360 653.5,380 656,394 663.5,400" fill="#e8f35c"/><polygon points="663.5,272 659.5,276 658,282 663.5,282" fill="#e8f35c"/>
<path d="M243.7,136.0 L243.7,137.3 L250.8,143.0 L256.7,150.7 L259.0,158.4 L262.6,165.5 L266.1,176.2 L270.9,184.4 L273.2,190.4 L277.4,198.6 L281.5,205.7 L285.1,212.8 L288.6,223.5 L292.2,230.6 L299.3,235.3 L305.4,240.0 L315.1,250.4 L322.0,257.3 L322.0,265.5 L318.6,271.1 L313.7,273.1 L302.7,272.4 L301.3,272.6 L305.4,276.6 L312.4,281.4 L313.7,286.2 L322.0,290.4 L331.7,297.3 L335.8,294.5 L340.0,292.5 L342.7,300.0 L352.7,306.9 L359.8,315.2 L361.5,324.7 L359.5,330.0 L357.7,339.5 L368.4,348.9 L382.6,356.0 L393.2,364.3 L399.2,370.2 L402.7,379.7 L405.1,381.5 L413.4,375.0 L414.5,369.0 L409.8,364.3 L407.4,358.4 L402.7,354.9 L396.8,353.7 L392.1,352.5 L388.5,345.4 L389.7,337.1 L386.1,330.0 L377.6,315.2 L374.0,303.4 L364.5,293.9 L355.1,279.7 L348.0,271.4 L344.4,257.2 L332.6,242.5 L326.5,234.1 L318.3,229.0 L312.3,221.1 L311.1,212.8 L307.6,201.0 L306.4,191.5 L308.7,183.3 L305.2,179.7 L309.9,182.1 L318.2,186.8 L324.1,185.6 L331.2,191.5 L339.5,195.1 L341.9,203.4 L345.4,212.8 L350.2,224.7 L352.7,230.0 L358.6,239.5 L357.4,251.3 L369.3,256.0 L377.6,267.9 L391.8,272.6 L392.9,284.4 L404.8,291.5 L409.5,297.5 L419.0,303.4 L415.4,317.6 L423.0,324.7 L434.7,330.0 L442.9,339.5 L453.6,346.6 L462.7,357.1 L472.2,371.3 L484.0,383.1 L489.9,391.4 L491.1,400.9 L494.7,406.8 L499.4,411.5 L498.2,421.0 L492.3,426.9 L498.2,429.3 L495.8,432.8 L489.9,434.0 L492.3,442.3 L500.6,453.0 L507.7,457.7 L517.1,461.2 L526.6,468.3 L532.5,477.9 L546.7,482.6 L562.0,485.0 L570.3,492.1 L582.1,500.3 L603.4,508.0 L609.4,511.6 L625.9,514.5 L633.0,519.3 L641.3,521.6 L647.2,527.0 L655.5,527.5 L665.0,531.5 L665.0,433.1 L663.3,433.1 L656.2,421.5 L650.9,410.0 L647.4,396.5 L645.6,390.3 L645.6,383.2 L647.4,365.5 L646.5,352.2 L650.0,341.0 L653.3,333.0 L658.0,321.0 L659.8,312.1 L658.0,303.2 L656.2,288.2 L659.8,276.6 L663.3,268.0 L665.0,268.0 L665.0,136.0Z" fill="#d2b48c" stroke="#000" stroke-width="2.1" stroke-linejoin="round"/>
<polyline points="304.8,179.4 300.3,176.5 299.8,173.5 302.8,169.6 305.8,165.6 307.7,164.7 309.2,160.7 313.6,158.7 319.6,160.7 324.0,159.7 330.4,156.8 338.0,153.3 343.1,151.9 349.5,152.8 348.4,147.4 353.9,144.7 359.3,146.8 373.4,152.8 381.0,151.2 387.5,152.8 396.2,149.3 401.7,151.2 409.3,157.2 416.9,155.0 424.5,161.5 429.9,159.3 434.2,151.7 440.8,144.1 439.7,140.3" fill="none" stroke="#97b6e1" stroke-width="2" stroke-linejoin="round"/>
<polyline points="469.5,177.3 465.7,165.8 458.1,160.4 457.6,151.7 460.3,146.3 463.6,137.1" fill="none" stroke="#97b6e1" stroke-width="2" stroke-linejoin="round"/>
<polyline points="569.6,141.0 578.6,150.0 589.6,154.2 592.4,155.5 603.4,151.4 603.4,143.8 614.5,139.7 618.6,141.0 629.7,152.1 639.3,160.4 650.4,170.0 653.1,175.6 662.8,189.4" fill="none" stroke="#97b6e1" stroke-width="2" stroke-linejoin="round"/>
<polyline points="494.9,407.1 500.1,403.9 503.3,405.8 507.8,403.9 511.7,408.4 516.9,416.8 524.6,420.0 529.8,422.6 533.6,420.6 536.2,423.9 540.1,431.6 546.5,434.8 547.8,438.7" fill="none" stroke="#97b6e1" stroke-width="2" stroke-linejoin="round"/>
<polyline points="596.2,398.1 605.9,405.8 609.7,407.1 612.3,406.4 617.5,407.1 623.9,403.2 629.1,400.6 635.5,400.0 642.0,398.1 646.5,394.8" fill="none" stroke="#97b6e1" stroke-width="2" stroke-linejoin="round"/>
<polyline points="472.3,182.7 477.7,188.7 484.2,193.0 495.1,203.9 502.7,208.7 509.6,221.1 513.7,232.2 523.4,239.1 538.6,246.6 545.5,240.4 549.6,229.4 556.5,226.6 564.8,228.3 574.4,228.7 586.9,240.4 595.2,254.2 603.4,270.0 611.9,278.4 613.6,289.9 619.0,301.5 623.4,305.0 638.5,311.2 652.7,314.8 658.9,313.9" fill="none" stroke="#97b6e1" stroke-width="2" stroke-linejoin="round"/>
<polyline points="283.9,141.8 289.8,148.9" fill="none" stroke="#aaaaaa" stroke-width="4" stroke-linecap="round"/>
<polyline points="536.2,437.4 547.8,438.7" fill="none" stroke="#b0b0b0" stroke-width="2.5" stroke-linecap="round"/>
<polyline points="313.8,136.0 311.2,143.0 309.2,145.9 309.7,150.4 312.7,152.8 314.6,155.8 313.6,158.7 309.2,160.7 307.7,164.7" fill="none" stroke="#000" stroke-width="1.6"/>
<polyline points="422.8,137.0 422.8,192.8" fill="none" stroke="#000" stroke-width="1.6"/>
<polyline points="541.6,137.0 541.6,177.4 469.5,177.3" fill="none" stroke="#000" stroke-width="1.6"/>
<polyline points="261.4,164.9 308.7,160.2" fill="none" stroke="#000" stroke-width="1.8" stroke-dasharray="5.5,3.2"/>
<polyline points="307.7,164.7 343.0,178.9 382.1,193.0 438.6,193.0 438.6,183.2 472.3,182.7 477.7,188.7 484.2,193.0 495.1,203.9 502.7,208.7 509.6,221.1 513.7,232.2 523.4,239.1 538.6,246.6 545.5,240.4 549.6,229.4 556.5,226.6 564.8,228.3 574.4,228.7 586.9,240.4 595.2,254.2 603.4,270.0 611.9,278.4 613.6,289.9 619.0,301.5 623.4,305.0 638.5,311.2 652.7,314.8 658.9,313.9" fill="none" stroke="#000" stroke-width="1.8" stroke-dasharray="5.5,3.2"/>
<ellipse cx="212.5" cy="147.0" rx="2.2" ry="1.6" transform="rotate(30 212.5 147.0)" fill="#000"/>
<ellipse cx="235.0" cy="143.6" rx="3.2" ry="1.6" transform="rotate(35 235.0 143.6)" fill="#000"/>
<ellipse cx="234.8" cy="156.5" rx="3.0" ry="1.5" transform="rotate(50 234.8 156.5)" fill="#000"/>
<ellipse cx="238.5" cy="244.6" rx="1.6" ry="3.5" transform="rotate(0 238.5 244.6)" fill="#000"/>
<ellipse cx="298.3" cy="264.0" rx="2.4" ry="4.2" transform="rotate(10 298.3 264.0)" fill="#000"/>
<ellipse cx="292.3" cy="262.1" rx="1.5" ry="1.0" transform="rotate(0 292.3 262.1)" fill="#000"/>
<ellipse cx="299.9" cy="271.7" rx="1.6" ry="1.2" transform="rotate(0 299.9 271.7)" fill="#000"/>
<ellipse cx="321.0" cy="274.5" rx="3.2" ry="2.6" transform="rotate(20 321.0 274.5)" fill="#000"/>
<ellipse cx="383.3" cy="468.0" rx="2.4" ry="2.2" transform="rotate(0 383.3 468.0)" fill="#000"/>
<ellipse cx="387.0" cy="457.1" rx="1.2" ry="1.2" transform="rotate(0 387.0 457.1)" fill="#000"/>
<ellipse cx="308.5" cy="477.1" rx="1.6" ry="0.9" transform="rotate(0 308.5 477.1)" fill="#000"/>
<ellipse cx="382.3" cy="467.7" rx="1.4" ry="1.4" transform="rotate(0 382.3 467.7)" fill="#000"/>
<ellipse cx="356.8" cy="260.2" rx="1.2" ry="1.2" transform="rotate(0 356.8 260.2)" fill="#000"/>
<ellipse cx="375.8" cy="269.6" rx="1.1" ry="1.1" transform="rotate(0 375.8 269.6)" fill="#000"/>
<ellipse cx="365.7" cy="280.9" rx="1.3" ry="1.3" transform="rotate(0 365.7 280.9)" fill="#000"/>
<ellipse cx="368.5" cy="297.5" rx="1.8" ry="3.2" transform="rotate(-35 368.5 297.5)" fill="#000"/>
<ellipse cx="380.0" cy="312.8" rx="1.6" ry="2.2" transform="rotate(0 380.0 312.8)" fill="#000"/>
<ellipse cx="383.0" cy="320.0" rx="1.4" ry="1.4" transform="rotate(0 383.0 320.0)" fill="#000"/>
<ellipse cx="387.0" cy="321.1" rx="1.3" ry="1.3" transform="rotate(0 387.0 321.1)" fill="#000"/>
<ellipse cx="389.4" cy="328.2" rx="1.2" ry="1.2" transform="rotate(0 389.4 328.2)" fill="#000"/>
<ellipse cx="396.5" cy="344.8" rx="1.5" ry="1.5" transform="rotate(0 396.5 344.8)" fill="#000"/>
<ellipse cx="394.8" cy="345.8" rx="1.3" ry="2.8" transform="rotate(-20 394.8 345.8)" fill="#000"/>
<ellipse cx="405.3" cy="351.5" rx="1.5" ry="3.0" transform="rotate(-20 405.3 351.5)" fill="#000"/>
<ellipse cx="470.5" cy="406.5" rx="2.0" ry="3.2" transform="rotate(-40 470.5 406.5)" fill="#000"/>
<ellipse cx="474.5" cy="411.5" rx="1.6" ry="1.6" transform="rotate(0 474.5 411.5)" fill="#000"/>
<ellipse cx="478.0" cy="414.5" rx="1.6" ry="1.5" transform="rotate(0 478.0 414.5)" fill="#000"/>
<ellipse cx="485.2" cy="402.7" rx="1.1" ry="1.1" transform="rotate(0 485.2 402.7)" fill="#000"/>
<polygon points="331.5,232.5 335.0,233.5 339.0,239 341.0,245 337.0,244 332.0,238" fill="#d2b48c" stroke="#000" stroke-width="1.8"/>
<polygon points="354.0,240 358.0,240.5 359.5,247 357.0,251 353.0,249" fill="#d2b48c" stroke="#000" stroke-width="1.8"/>
<polygon points="660.0,263.0 663.5,263.0 663.5,272.0 659.5,277.0 656.2,288.0 658.0,303.0 659.8,312.0 658.5,316.0 655.5,313.0 653.5,303.0 652.5,292.0 650.5,285.0 652.5,276.0 656.0,268.0" fill="#000"/>
<polygon points="647.0,325.0 652.5,323.0 654.0,334.0 651.0,347.0 648.5,357.0 646.0,352.0 646.5,338.0" fill="#56657c" stroke="#000" stroke-width="1.2"/>
<polyline points="135.8,151.5 157.3,139.7" fill="none" stroke="#fff" stroke-width="3.6"/>
<polyline points="187.8,141.5 196.0,151.5" fill="none" stroke="#fff" stroke-width="3.6"/>
<polyline points="153.2,196.4 174.5,183.5" fill="none" stroke="#fff" stroke-width="3.6"/>
<polyline points="646.4,559.5 653.5,555.5" fill="none" stroke="#fff" stroke-width="3.6"/>
<polygon points="157.30,130.30 149.50,145.90 165.10,145.90" fill="#2ca02c" stroke="#000" stroke-width="1.45" stroke-linejoin="miter"/>
<polygon points="181.50,126.80 173.70,142.40 189.30,142.40" fill="#8c564b" stroke="#000" stroke-width="1.45" stroke-linejoin="miter"/>
<circle cx="196.40" cy="178.10" r="6.00" fill="#8ec5ee" stroke="#000" stroke-width="1.45"/>
<polygon points="199.40,157.20 191.60,172.80 207.20,172.80" fill="#d62728" stroke="#000" stroke-width="1.45" stroke-linejoin="miter"/>
<polygon points="178.90,173.40 171.10,189.00 186.70,189.00" fill="#9467bd" stroke="#000" stroke-width="1.45" stroke-linejoin="miter"/>
<circle cx="106.80" cy="191.10" r="6.00" fill="#e377c2" stroke="#000" stroke-width="1.45"/>
<polygon points="122.20,180.80 127.74,184.00 127.74,190.40 122.20,193.60 116.66,190.40 116.66,184.00" fill="#b690e0" stroke="#000" stroke-width="1.45" stroke-linejoin="miter"/>
<circle cx="135.30" cy="271.00" r="6.00" fill="#fcc6c0" stroke="#000" stroke-width="1.45"/>
<polygon points="167.70,264.20 173.88,268.69 171.52,275.96 163.88,275.96 161.52,268.69" fill="#ec6e6e" stroke="#000" stroke-width="1.45" stroke-linejoin="miter"/>
<circle cx="217.80" cy="273.20" r="6.00" fill="#c48a7a" stroke="#000" stroke-width="1.45"/>
<polygon points="113.50,279.10 119.68,283.59 117.32,290.86 109.68,290.86 107.32,283.59" fill="#fdd0c4" stroke="#000" stroke-width="1.45" stroke-linejoin="miter"/>
<polygon points="161.20,292.00 167.38,296.49 165.02,303.76 157.38,303.76 155.02,296.49" fill="#9467bd" stroke="#000" stroke-width="1.45" stroke-linejoin="miter"/>
<polygon points="273.00,289.10 279.18,293.59 276.82,300.86 269.18,300.86 266.82,293.59" fill="#a66d5f" stroke="#000" stroke-width="1.45" stroke-linejoin="miter"/>
<polygon points="189.30,308.90 195.48,313.39 193.12,320.66 185.48,320.66 183.12,313.39" fill="#f09cda" stroke="#000" stroke-width="1.45" stroke-linejoin="miter"/>
<polygon points="308.70,322.00 314.88,326.49 312.52,333.76 304.88,333.76 302.52,326.49" fill="#5ea5d9" stroke="#000" stroke-width="1.45" stroke-linejoin="miter"/>
<circle cx="210.00" cy="347.90" r="6.00" fill="#e2c6fb" stroke="#000" stroke-width="1.45"/>
<circle cx="153.80" cy="429.30" r="6.00" fill="#d62728" stroke="#000" stroke-width="1.45"/>
<polygon points="208.00,421.30 214.18,425.79 211.82,433.06 204.18,433.06 201.82,425.79" fill="#c6f7c6" stroke="#000" stroke-width="1.45" stroke-linejoin="miter"/>
<circle cx="218.90" cy="429.30" r="6.00" fill="#a09898" stroke="#000" stroke-width="1.45"/>
<circle cx="233.20" cy="431.50" r="6.00" fill="#fde0c6" stroke="#000" stroke-width="1.45"/>
<polygon points="303.00,455.60 308.54,458.80 308.54,465.20 303.00,468.40 297.46,465.20 297.46,458.80" fill="#e0a898" stroke="#000" stroke-width="1.45" stroke-linejoin="miter"/>
<polygon points="321.90,462.60 327.44,465.80 327.44,472.20 321.90,475.40 316.36,472.20 316.36,465.80" fill="#e14848" stroke="#000" stroke-width="1.45" stroke-linejoin="miter"/>
<polygon points="267.90,499.20 274.08,503.69 271.72,510.96 264.08,510.96 261.72,503.69" fill="#4cb54c" stroke="#000" stroke-width="1.45" stroke-linejoin="miter"/>
<polygon points="207.00,520.60 212.54,523.80 212.54,530.20 207.00,533.40 201.46,530.20 201.46,523.80" fill="#e98bd0" stroke="#000" stroke-width="1.45" stroke-linejoin="miter"/>
<polygon points="361.00,525.20 367.18,529.69 364.82,536.96 357.18,536.96 354.82,529.69" fill="#7f7f7f" stroke="#000" stroke-width="1.45" stroke-linejoin="miter"/>
<polygon points="297.50,538.20 303.68,542.69 301.32,549.96 293.68,549.96 291.32,542.69" fill="#cba8f2" stroke="#000" stroke-width="1.45" stroke-linejoin="miter"/>
<circle cx="305.20" cy="550.40" r="6.00" fill="#6fcc6f" stroke="#000" stroke-width="1.45"/>
<circle cx="325.10" cy="591.80" r="6.00" fill="#a97ed0" stroke="#000" stroke-width="1.45"/>
<polygon points="111.00,581.30 117.18,585.79 114.82,593.06 107.18,593.06 104.82,585.79" fill="#dbb9b9" stroke="#000" stroke-width="1.45" stroke-linejoin="miter"/>
<polygon points="165.60,597.10 171.14,600.30 171.14,606.70 165.60,609.90 160.06,606.70 160.06,600.30" fill="#2ca02c" stroke="#000" stroke-width="1.45" stroke-linejoin="miter"/>
<polygon points="370.00,624.80 375.54,628.00 375.54,634.40 370.00,637.60 364.46,634.40 364.46,628.00" fill="#c5e6fb" stroke="#000" stroke-width="1.45" stroke-linejoin="miter"/>
<circle cx="389.30" cy="409.40" r="6.00" fill="#1f77b4" stroke="#000" stroke-width="1.45"/>
<polygon points="389.30,407.10 394.84,410.30 394.84,416.70 389.30,419.90 383.76,416.70 383.76,410.30" fill="#fdcaf2" stroke="#000" stroke-width="1.45" stroke-linejoin="miter"/>
<circle cx="398.40" cy="460.10" r="6.00" fill="#f8b0e6" stroke="#000" stroke-width="1.45"/>
<polygon points="511.90,492.00 517.44,495.20 517.44,501.60 511.90,504.80 506.36,501.60 506.36,495.20" fill="#3a8bc4" stroke="#000" stroke-width="1.45" stroke-linejoin="miter"/>
<circle cx="418.10" cy="527.00" r="6.00" fill="#fd8f35" stroke="#000" stroke-width="1.45"/>
<polygon points="619.80,523.20 625.98,527.69 623.62,534.96 615.98,534.96 613.62,527.69" fill="#fdc793" stroke="#000" stroke-width="1.45" stroke-linejoin="miter"/>
<polygon points="658.90,539.50 651.10,555.10 666.70,555.10" fill="#1f77b4" stroke="#000" stroke-width="1.45" stroke-linejoin="miter"/>
<polygon points="659.20,572.80 651.40,588.40 667.00,588.40" fill="#ff7f0e" stroke="#000" stroke-width="1.45" stroke-linejoin="miter"/>
<polygon points="491.00,580.70 496.54,583.90 496.54,590.30 491.00,593.50 485.46,590.30 485.46,583.90" fill="#8c564b" stroke="#000" stroke-width="1.45" stroke-linejoin="miter"/>
<polygon points="400.20,615.60 405.74,618.80 405.74,625.20 400.20,628.40 394.66,625.20 394.66,618.80" fill="#fccccc" stroke="#000" stroke-width="1.45" stroke-linejoin="miter"/>
<polygon points="508.60,614.70 514.14,617.90 514.14,624.30 508.60,627.50 503.06,624.30 503.06,617.90" fill="#fdac66" stroke="#000" stroke-width="1.45" stroke-linejoin="miter"/>
<circle cx="548.70" cy="667.00" r="6.00" fill="#f49b9b" stroke="#000" stroke-width="1.45"/>
<polygon points="467.30,675.50 472.84,678.70 472.84,685.10 467.30,688.30 461.76,685.10 461.76,678.70" fill="#bba9a9" stroke="#000" stroke-width="1.45" stroke-linejoin="miter"/>
</g>
<polyline points="662.7,137.2 662.7,689.14256834465 84.5,689.14256834465 84.5,137.2 243.3,137.2" fill="none" stroke="#000" stroke-width="1.3"/>
<line x1="243.3" y1="137.2" x2="663.35" y2="137.2" stroke="#c9c2b6" stroke-width="1.0"/>
<line x1="84.50" y1="137.2" x2="84.50" y2="128.2" stroke="#000" stroke-width="2.6"/>
<line x1="84.50" y1="689.14256834465" x2="84.50" y2="698.14256834465" stroke="#000" stroke-width="2.6"/>
<line x1="104.44" y1="137.2" x2="104.44" y2="133.89999999999998" stroke="#000" stroke-width="1.6"/>
<line x1="104.44" y1="689.14256834465" x2="104.44" y2="692.44256834465" stroke="#000" stroke-width="1.6"/>
<line x1="124.38" y1="137.2" x2="124.38" y2="133.89999999999998" stroke="#000" stroke-width="1.6"/>
<line x1="124.38" y1="689.14256834465" x2="124.38" y2="692.44256834465" stroke="#000" stroke-width="1.6"/>
<line x1="144.31" y1="137.2" x2="144.31" y2="128.2" stroke="#000" stroke-width="2.6"/>
<line x1="144.31" y1="689.14256834465" x2="144.31" y2="698.14256834465" stroke="#000" stroke-width="2.6"/>
<line x1="164.25" y1="137.2" x2="164.25" y2="133.89999999999998" stroke="#000" stroke-width="1.6"/>
<line x1="164.25" y1="689.14256834465" x2="164.25" y2="692.44256834465" stroke="#000" stroke-width="1.6"/>
<line x1="184.19" y1="137.2" x2="184.19" y2="133.89999999999998" stroke="#000" stroke-width="1.6"/>
<line x1="184.19" y1="689.14256834465" x2="184.19" y2="692.44256834465" stroke="#000" stroke-width="1.6"/>
<line x1="204.13" y1="137.2" x2="204.13" y2="128.2" stroke="#000" stroke-width="2.6"/>
<line x1="204.13" y1="689.14256834465" x2="204.13" y2="698.14256834465" stroke="#000" stroke-width="2.6"/>
<line x1="224.07" y1="137.2" x2="224.07" y2="133.89999999999998" stroke="#000" stroke-width="1.6"/>
<line x1="224.07" y1="689.14256834465" x2="224.07" y2="692.44256834465" stroke="#000" stroke-width="1.6"/>
<line x1="244.00" y1="137.2" x2="244.00" y2="133.89999999999998" stroke="#000" stroke-width="1.6"/>
<line x1="244.00" y1="689.14256834465" x2="244.00" y2="692.44256834465" stroke="#000" stroke-width="1.6"/>
<line x1="263.94" y1="137.2" x2="263.94" y2="128.2" stroke="#000" stroke-width="2.6"/>
<line x1="263.94" y1="689.14256834465" x2="263.94" y2="698.14256834465" stroke="#000" stroke-width="2.6"/>
<line x1="283.88" y1="137.2" x2="283.88" y2="133.89999999999998" stroke="#000" stroke-width="1.6"/>
<line x1="283.88" y1="689.14256834465" x2="283.88" y2="692.44256834465" stroke="#000" stroke-width="1.6"/>
<line x1="303.82" y1="137.2" x2="303.82" y2="133.89999999999998" stroke="#000" stroke-width="1.6"/>
<line x1="303.82" y1="689.14256834465" x2="303.82" y2="692.44256834465" stroke="#000" stroke-width="1.6"/>
<line x1="323.76" y1="137.2" x2="323.76" y2="128.2" stroke="#000" stroke-width="2.6"/>
<line x1="323.76" y1="689.14256834465" x2="323.76" y2="698.14256834465" stroke="#000" stroke-width="2.6"/>
<line x1="343.69" y1="137.2" x2="343.69" y2="133.89999999999998" stroke="#000" stroke-width="1.6"/>
<line x1="343.69" y1="689.14256834465" x2="343.69" y2="692.44256834465" stroke="#000" stroke-width="1.6"/>
<line x1="363.63" y1="137.2" x2="363.63" y2="133.89999999999998" stroke="#000" stroke-width="1.6"/>
<line x1="363.63" y1="689.14256834465" x2="363.63" y2="692.44256834465" stroke="#000" stroke-width="1.6"/>
<line x1="383.57" y1="137.2" x2="383.57" y2="128.2" stroke="#000" stroke-width="2.6"/>
<line x1="383.57" y1="689.14256834465" x2="383.57" y2="698.14256834465" stroke="#000" stroke-width="2.6"/>
<line x1="403.51" y1="137.2" x2="403.51" y2="133.89999999999998" stroke="#000" stroke-width="1.6"/>
<line x1="403.51" y1="689.14256834465" x2="403.51" y2="692.44256834465" stroke="#000" stroke-width="1.6"/>
<line x1="423.44" y1="137.2" x2="423.44" y2="133.89999999999998" stroke="#000" stroke-width="1.6"/>
<line x1="423.44" y1="689.14256834465" x2="423.44" y2="692.44256834465" stroke="#000" stroke-width="1.6"/>
<line x1="443.38" y1="137.2" x2="443.38" y2="128.2" stroke="#000" stroke-width="2.6"/>
<line x1="443.38" y1="689.14256834465" x2="443.38" y2="698.14256834465" stroke="#000" stroke-width="2.6"/>
<line x1="463.32" y1="137.2" x2="463.32" y2="133.89999999999998" stroke="#000" stroke-width="1.6"/>
<line x1="463.32" y1="689.14256834465" x2="463.32" y2="692.44256834465" stroke="#000" stroke-width="1.6"/>
<line x1="483.26" y1="137.2" x2="483.26" y2="133.89999999999998" stroke="#000" stroke-width="1.6"/>
<line x1="483.26" y1="689.14256834465" x2="483.26" y2="692.44256834465" stroke="#000" stroke-width="1.6"/>
<line x1="503.20" y1="137.2" x2="503.20" y2="128.2" stroke="#000" stroke-width="2.6"/>
<line x1="503.20" y1="689.14256834465" x2="503.20" y2="698.14256834465" stroke="#000" stroke-width="2.6"/>
<line x1="523.13" y1="137.2" x2="523.13" y2="133.89999999999998" stroke="#000" stroke-width="1.6"/>
<line x1="523.13" y1="689.14256834465" x2="523.13" y2="692.44256834465" stroke="#000" stroke-width="1.6"/>
<line x1="543.07" y1="137.2" x2="543.07" y2="133.89999999999998" stroke="#000" stroke-width="1.6"/>
<line x1="543.07" y1="689.14256834465" x2="543.07" y2="692.44256834465" stroke="#000" stroke-width="1.6"/>
<line x1="563.01" y1="137.2" x2="563.01" y2="128.2" stroke="#000" stroke-width="2.6"/>
<line x1="563.01" y1="689.14256834465" x2="563.01" y2="698.14256834465" stroke="#000" stroke-width="2.6"/>
<line x1="582.95" y1="137.2" x2="582.95" y2="133.89999999999998" stroke="#000" stroke-width="1.6"/>
<line x1="582.95" y1="689.14256834465" x2="582.95" y2="692.44256834465" stroke="#000" stroke-width="1.6"/>
<line x1="602.89" y1="137.2" x2="602.89" y2="133.89999999999998" stroke="#000" stroke-width="1.6"/>
<line x1="602.89" y1="689.14256834465" x2="602.89" y2="692.44256834465" stroke="#000" stroke-width="1.6"/>
<line x1="622.82" y1="137.2" x2="622.82" y2="128.2" stroke="#000" stroke-width="2.6"/>
<line x1="622.82" y1="689.14256834465" x2="622.82" y2="698.14256834465" stroke="#000" stroke-width="2.6"/>
<line x1="642.76" y1="137.2" x2="642.76" y2="133.89999999999998" stroke="#000" stroke-width="1.6"/>
<line x1="642.76" y1="689.14256834465" x2="642.76" y2="692.44256834465" stroke="#000" stroke-width="1.6"/>
<line x1="662.70" y1="137.2" x2="662.70" y2="133.89999999999998" stroke="#000" stroke-width="1.6"/>
<line x1="662.70" y1="689.14256834465" x2="662.70" y2="692.44256834465" stroke="#000" stroke-width="1.6"/>
<line x1="84.5" y1="689.14" x2="81.2" y2="689.14" stroke="#000" stroke-width="1.6"/>
<line x1="662.7" y1="689.14" x2="666.0" y2="689.14" stroke="#000" stroke-width="1.6"/>
<line x1="84.5" y1="669.11" x2="75.5" y2="669.11" stroke="#000" stroke-width="2.6"/>
<line x1="662.7" y1="669.11" x2="671.7" y2="669.11" stroke="#000" stroke-width="2.6"/>
<line x1="84.5" y1="649.03" x2="81.2" y2="649.03" stroke="#000" stroke-width="1.6"/>
<line x1="662.7" y1="649.03" x2="666.0" y2="649.03" stroke="#000" stroke-width="1.6"/>
<line x1="84.5" y1="628.88" x2="81.2" y2="628.88" stroke="#000" stroke-width="1.6"/>
<line x1="662.7" y1="628.88" x2="666.0" y2="628.88" stroke="#000" stroke-width="1.6"/>
<line x1="84.5" y1="608.67" x2="75.5" y2="608.67" stroke="#000" stroke-width="2.6"/>
<line x1="662.7" y1="608.67" x2="671.7" y2="608.67" stroke="#000" stroke-width="2.6"/>
<line x1="84.5" y1="588.38" x2="81.2" y2="588.38" stroke="#000" stroke-width="1.6"/>
<line x1="662.7" y1="588.38" x2="666.0" y2="588.38" stroke="#000" stroke-width="1.6"/>
<line x1="84.5" y1="568.00" x2="81.2" y2="568.00" stroke="#000" stroke-width="1.6"/>
<line x1="662.7" y1="568.00" x2="666.0" y2="568.00" stroke="#000" stroke-width="1.6"/>
<line x1="84.5" y1="547.54" x2="75.5" y2="547.54" stroke="#000" stroke-width="2.6"/>
<line x1="662.7" y1="547.54" x2="671.7" y2="547.54" stroke="#000" stroke-width="2.6"/>
<line x1="84.5" y1="526.97" x2="81.2" y2="526.97" stroke="#000" stroke-width="1.6"/>
<line x1="662.7" y1="526.97" x2="666.0" y2="526.97" stroke="#000" stroke-width="1.6"/>
<line x1="84.5" y1="506.31" x2="81.2" y2="506.31" stroke="#000" stroke-width="1.6"/>
<line x1="662.7" y1="506.31" x2="666.0" y2="506.31" stroke="#000" stroke-width="1.6"/>
<line x1="84.5" y1="485.53" x2="75.5" y2="485.53" stroke="#000" stroke-width="2.6"/>
<line x1="662.7" y1="485.53" x2="671.7" y2="485.53" stroke="#000" stroke-width="2.6"/>
<line x1="84.5" y1="464.63" x2="81.2" y2="464.63" stroke="#000" stroke-width="1.6"/>
<line x1="662.7" y1="464.63" x2="666.0" y2="464.63" stroke="#000" stroke-width="1.6"/>
<line x1="84.5" y1="443.61" x2="81.2" y2="443.61" stroke="#000" stroke-width="1.6"/>
<line x1="662.7" y1="443.61" x2="666.0" y2="443.61" stroke="#000" stroke-width="1.6"/>
<line x1="84.5" y1="422.45" x2="75.5" y2="422.45" stroke="#000" stroke-width="2.6"/>
<line x1="662.7" y1="422.45" x2="671.7" y2="422.45" stroke="#000" stroke-width="2.6"/>
<line x1="84.5" y1="401.14" x2="81.2" y2="401.14" stroke="#000" stroke-width="1.6"/>
<line x1="662.7" y1="401.14" x2="666.0" y2="401.14" stroke="#000" stroke-width="1.6"/>
<line x1="84.5" y1="379.68" x2="81.2" y2="379.68" stroke="#000" stroke-width="1.6"/>
<line x1="662.7" y1="379.68" x2="666.0" y2="379.68" stroke="#000" stroke-width="1.6"/>
<line x1="84.5" y1="358.06" x2="75.5" y2="358.06" stroke="#000" stroke-width="2.6"/>
<line x1="662.7" y1="358.06" x2="671.7" y2="358.06" stroke="#000" stroke-width="2.6"/>
<line x1="84.5" y1="336.27" x2="81.2" y2="336.27" stroke="#000" stroke-width="1.6"/>
<line x1="662.7" y1="336.27" x2="666.0" y2="336.27" stroke="#000" stroke-width="1.6"/>
<line x1="84.5" y1="314.30" x2="81.2" y2="314.30" stroke="#000" stroke-width="1.6"/>
<line x1="662.7" y1="314.30" x2="666.0" y2="314.30" stroke="#000" stroke-width="1.6"/>
<line x1="84.5" y1="292.14" x2="75.5" y2="292.14" stroke="#000" stroke-width="2.6"/>
<line x1="662.7" y1="292.14" x2="671.7" y2="292.14" stroke="#000" stroke-width="2.6"/>
<line x1="84.5" y1="269.79" x2="81.2" y2="269.79" stroke="#000" stroke-width="1.6"/>
<line x1="662.7" y1="269.79" x2="666.0" y2="269.79" stroke="#000" stroke-width="1.6"/>
<line x1="84.5" y1="247.22" x2="81.2" y2="247.22" stroke="#000" stroke-width="1.6"/>
<line x1="662.7" y1="247.22" x2="666.0" y2="247.22" stroke="#000" stroke-width="1.6"/>
<line x1="84.5" y1="224.42" x2="75.5" y2="224.42" stroke="#000" stroke-width="2.6"/>
<line x1="662.7" y1="224.42" x2="671.7" y2="224.42" stroke="#000" stroke-width="2.6"/>
<line x1="84.5" y1="201.40" x2="81.2" y2="201.40" stroke="#000" stroke-width="1.6"/>
<line x1="662.7" y1="201.40" x2="666.0" y2="201.40" stroke="#000" stroke-width="1.6"/>
<line x1="84.5" y1="178.13" x2="81.2" y2="178.13" stroke="#000" stroke-width="1.6"/>
<line x1="662.7" y1="178.13" x2="666.0" y2="178.13" stroke="#000" stroke-width="1.6"/>
<line x1="84.5" y1="154.60" x2="75.5" y2="154.60" stroke="#000" stroke-width="2.6"/>
<line x1="662.7" y1="154.60" x2="671.7" y2="154.60" stroke="#000" stroke-width="2.6"/>
</g>
<text x="773.17" y="721.70" font-size="23.79" font-weight="normal" font-style="normal" fill="#000" stroke="#000" stroke-width="0.27" textLength="75.06" lengthAdjust="spacingAndGlyphs">126°W</text>
<text x="832.98" y="721.70" font-size="23.79" font-weight="normal" font-style="normal" fill="#000" stroke="#000" stroke-width="0.27" textLength="75.06" lengthAdjust="spacingAndGlyphs">123°W</text>
<text x="892.79" y="721.70" font-size="23.79" font-weight="normal" font-style="normal" fill="#000" stroke="#000" stroke-width="0.27" textLength="75.06" lengthAdjust="spacingAndGlyphs">120°W</text>
<text x="952.61" y="721.70" font-size="23.79" font-weight="normal" font-style="normal" fill="#000" stroke="#000" stroke-width="0.27" textLength="75.06" lengthAdjust="spacingAndGlyphs">117°W</text>
<text x="1012.42" y="721.70" font-size="23.79" font-weight="normal" font-style="normal" fill="#000" stroke="#000" stroke-width="0.27" textLength="75.06" lengthAdjust="spacingAndGlyphs">114°W</text>
<text x="1072.23" y="721.70" font-size="23.79" font-weight="normal" font-style="normal" fill="#000" stroke="#000" stroke-width="0.27" textLength="75.06" lengthAdjust="spacingAndGlyphs">111°W</text>
<text x="1132.05" y="721.70" font-size="23.79" font-weight="normal" font-style="normal" fill="#000" stroke="#000" stroke-width="0.27" textLength="75.06" lengthAdjust="spacingAndGlyphs">108°W</text>
<text x="1191.86" y="721.70" font-size="23.79" font-weight="normal" font-style="normal" fill="#000" stroke="#000" stroke-width="0.27" textLength="75.06" lengthAdjust="spacingAndGlyphs">105°W</text>
<text x="1251.68" y="721.70" font-size="23.79" font-weight="normal" font-style="normal" fill="#000" stroke="#000" stroke-width="0.27" textLength="75.06" lengthAdjust="spacingAndGlyphs">102°W</text>
<text x="1318.84" y="721.70" font-size="23.79" font-weight="normal" font-style="normal" fill="#000" stroke="#000" stroke-width="0.27" textLength="61.09" lengthAdjust="spacingAndGlyphs">99°W</text>
<text x="1405.03" y="677.51" font-size="23.79" font-weight="normal" font-style="normal" fill="#000" stroke="#000" stroke-width="0.27" textLength="41.89" lengthAdjust="spacingAndGlyphs">9°N</text>
<text x="1404.30" y="617.07" font-size="23.79" font-weight="normal" font-style="normal" fill="#000" stroke="#000" stroke-width="0.27" textLength="55.86" lengthAdjust="spacingAndGlyphs">12°N</text>
<text x="1404.30" y="555.94" font-size="23.79" font-weight="normal" font-style="normal" fill="#000" stroke="#000" stroke-width="0.27" textLength="55.86" lengthAdjust="spacingAndGlyphs">15°N</text>
<text x="1404.30" y="493.93" font-size="23.79" font-weight="normal" font-style="normal" fill="#000" stroke="#000" stroke-width="0.27" textLength="55.86" lengthAdjust="spacingAndGlyphs">18°N</text>
<text x="1404.94" y="430.85" font-size="23.79" font-weight="normal" font-style="normal" fill="#000" stroke="#000" stroke-width="0.27" textLength="56.04" lengthAdjust="spacingAndGlyphs">21°N</text>
<text x="1404.94" y="366.46" font-size="23.79" font-weight="normal" font-style="normal" fill="#000" stroke="#000" stroke-width="0.27" textLength="56.04" lengthAdjust="spacingAndGlyphs">24°N</text>
<text x="1404.94" y="300.54" font-size="23.79" font-weight="normal" font-style="normal" fill="#000" stroke="#000" stroke-width="0.27" textLength="56.04" lengthAdjust="spacingAndGlyphs">27°N</text>
<text x="1405.25" y="232.82" font-size="23.79" font-weight="normal" font-style="normal" fill="#000" stroke="#000" stroke-width="0.27" textLength="55.65" lengthAdjust="spacingAndGlyphs">30°N</text>
<text x="1405.25" y="163.00" font-size="23.79" font-weight="normal" font-style="normal" fill="#000" stroke="#000" stroke-width="0.27" textLength="55.65" lengthAdjust="spacingAndGlyphs">33°N</text>
<text x="322.58" y="126.80" font-size="29.09" font-weight="bold" font-style="normal" fill="#000" textLength="100.32" lengthAdjust="spacingAndGlyphs">RTOFS</text>
<text x="1058.11" y="126.80" font-size="29.09" font-weight="bold" font-style="normal" fill="#000" textLength="83.32" lengthAdjust="spacingAndGlyphs">GOES</text>
<polygon points="122.0,757.3 60.2,765.7 122.0,774.1" fill="#082330"/>
<rect x="122.00" y="757.3" width="112.33" height="16.800000000000068" fill="#0a2744"/>
<rect x="233.83" y="757.3" width="112.33" height="16.800000000000068" fill="#1c3581"/>
<rect x="345.66" y="757.3" width="112.33" height="16.800000000000068" fill="#453a9f"/>
<rect x="457.49" y="757.3" width="112.33" height="16.800000000000068" fill="#653f97"/>
<rect x="569.32" y="757.3" width="112.33" height="16.800000000000068" fill="#845088"/>
<rect x="681.15" y="757.3" width="112.33" height="16.800000000000068" fill="#a05a84"/>
<rect x="792.98" y="757.3" width="112.33" height="16.800000000000068" fill="#bf6479"/>
<rect x="904.81" y="757.3" width="112.33" height="16.800000000000068" fill="#dc706a"/>
<rect x="1016.64" y="757.3" width="112.33" height="16.800000000000068" fill="#f1874f"/>
<rect x="1128.47" y="757.3" width="112.33" height="16.800000000000068" fill="#fca53d"/>
<rect x="1240.30" y="757.3" width="112.33" height="16.800000000000068" fill="#f7c545"/>
<polygon points="1352.1299999999999,757.3 1413.5,765.7 1352.1299999999999,774.1" fill="#e8f35c"/>
<polygon points="122.0,757.3 1352.1299999999999,757.3 1413.5,765.7 1352.1299999999999,774.1 122.0,774.1 60.2,765.7" fill="none" stroke="#000" stroke-width="1.3"/>
<line x1="122.0" y1="774.1" x2="122.0" y2="779.6" stroke="#000" stroke-width="1.2"/>
<text x="108.72" y="803.10" font-size="21.77" font-weight="normal" font-style="normal" fill="#000" stroke="#000" stroke-width="0.25" textLength="25.31" lengthAdjust="spacingAndGlyphs">20</text>
<line x1="345.65999999999997" y1="774.1" x2="345.65999999999997" y2="779.6" stroke="#000" stroke-width="1.2"/>
<text x="332.74" y="803.10" font-size="21.77" font-weight="normal" font-style="normal" fill="#000" stroke="#000" stroke-width="0.25" textLength="24.83" lengthAdjust="spacingAndGlyphs">22</text>
<line x1="569.3199999999999" y1="774.1" x2="569.3199999999999" y2="779.6" stroke="#000" stroke-width="1.2"/>
<text x="555.93" y="803.10" font-size="21.77" font-weight="normal" font-style="normal" fill="#000" stroke="#000" stroke-width="0.25" textLength="25.30" lengthAdjust="spacingAndGlyphs">24</text>
<line x1="792.98" y1="774.1" x2="792.98" y2="779.6" stroke="#000" stroke-width="1.2"/>
<text x="779.65" y="803.10" font-size="21.77" font-weight="normal" font-style="normal" fill="#000" stroke="#000" stroke-width="0.25" textLength="25.51" lengthAdjust="spacingAndGlyphs">26</text>
<line x1="1016.64" y1="774.1" x2="1016.64" y2="779.6" stroke="#000" stroke-width="1.2"/>
<text x="1003.37" y="803.10" font-size="21.77" font-weight="normal" font-style="normal" fill="#000" stroke="#000" stroke-width="0.25" textLength="25.38" lengthAdjust="spacingAndGlyphs">28</text>
<line x1="1240.3" y1="774.1" x2="1240.3" y2="779.6" stroke="#000" stroke-width="1.2"/>
<text x="1227.34" y="803.10" font-size="21.77" font-weight="normal" font-style="normal" fill="#000" stroke="#000" stroke-width="0.25" textLength="24.95" lengthAdjust="spacingAndGlyphs">30</text>
<text x="619.74" y="829.80" font-size="21.79" font-weight="bold" font-style="normal" fill="#000" textLength="234.67" lengthAdjust="spacingAndGlyphs">Temperature (degC)</text>
<text x="410.61" y="853.20" font-size="16.59" font-weight="bold" font-style="italic" fill="#000" textLength="650.33" lengthAdjust="spacingAndGlyphs">Glider/Argo Search Window: 2025-08-26 13:00:00 to 2025-08-31 12:00:00</text>
<rect x="175.9" y="868.1" width="1122.2" height="128.5" rx="3" fill="#fff" stroke="#d0d0d0" stroke-width="1.3"/>
<circle cx="195.20" cy="879.70" r="6.24" fill="#1f77b4" stroke="#000" stroke-width="1.45"/>
<text x="219.81" y="885.00" font-size="14.62" font-weight="normal" font-style="normal" fill="#000" stroke="#000" stroke-width="0.17" textLength="60.58" lengthAdjust="spacingAndGlyphs">1902645</text>
<polygon points="195.20,894.09 200.96,897.42 200.96,904.08 195.20,907.41 189.44,904.08 189.44,897.42" fill="#3a8bc4" stroke="#000" stroke-width="1.45" stroke-linejoin="miter"/>
<text x="220.21" y="906.05" font-size="14.62" font-weight="normal" font-style="normal" fill="#000" stroke="#000" stroke-width="0.17" textLength="60.84" lengthAdjust="spacingAndGlyphs">2903857</text>
<polygon points="195.20,915.04 201.63,919.71 199.17,927.27 191.23,927.27 188.77,919.71" fill="#5ea5d9" stroke="#000" stroke-width="1.45" stroke-linejoin="miter"/>
<text x="220.21" y="927.10" font-size="14.62" font-weight="normal" font-style="normal" fill="#000" stroke="#000" stroke-width="0.17" textLength="61.01" lengthAdjust="spacingAndGlyphs">2903859</text>
<circle cx="195.20" cy="942.85" r="6.24" fill="#8ec5ee" stroke="#000" stroke-width="1.45"/>
<text x="220.21" y="948.15" font-size="14.62" font-weight="normal" font-style="normal" fill="#000" stroke="#000" stroke-width="0.17" textLength="61.06" lengthAdjust="spacingAndGlyphs">2903886</text>
<polygon points="195.20,957.24 200.96,960.57 200.96,967.23 195.20,970.56 189.44,967.23 189.44,960.57" fill="#c5e6fb" stroke="#000" stroke-width="1.45" stroke-linejoin="miter"/>
<text x="220.41" y="969.20" font-size="14.62" font-weight="normal" font-style="normal" fill="#000" stroke="#000" stroke-width="0.17" textLength="60.61" lengthAdjust="spacingAndGlyphs">3902277</text>
<polygon points="195.20,978.19 201.63,982.86 199.17,990.42 191.23,990.42 188.77,982.86" fill="#ff7f0e" stroke="#000" stroke-width="1.45" stroke-linejoin="miter"/>
<text x="220.41" y="990.25" font-size="14.62" font-weight="normal" font-style="normal" fill="#000" stroke="#000" stroke-width="0.17" textLength="60.74" lengthAdjust="spacingAndGlyphs">3902278</text>
<circle cx="323.90" cy="879.70" r="6.24" fill="#fd8f35" stroke="#000" stroke-width="1.45"/>
<text x="349.11" y="885.00" font-size="14.62" font-weight="normal" font-style="normal" fill="#000" stroke="#000" stroke-width="0.17" textLength="60.58" lengthAdjust="spacingAndGlyphs">3902313</text>
<polygon points="323.90,894.09 329.66,897.42 329.66,904.08 323.90,907.41 318.14,904.08 318.14,897.42" fill="#fdac66" stroke="#000" stroke-width="1.45" stroke-linejoin="miter"/>
<text x="349.11" y="906.05" font-size="14.62" font-weight="normal" font-style="normal" fill="#000" stroke="#000" stroke-width="0.17" textLength="60.45" lengthAdjust="spacingAndGlyphs">3902375</text>
<polygon points="323.90,915.04 330.33,919.71 327.87,927.27 319.93,927.27 317.47,919.71" fill="#fdc793" stroke="#000" stroke-width="1.45" stroke-linejoin="miter"/>
<text x="349.10" y="927.10" font-size="14.62" font-weight="normal" font-style="normal" fill="#000" stroke="#000" stroke-width="0.17" textLength="60.82" lengthAdjust="spacingAndGlyphs">3902386</text>
<circle cx="323.90" cy="942.85" r="6.24" fill="#fde0c6" stroke="#000" stroke-width="1.45"/>
<text x="349.11" y="948.15" font-size="14.62" font-weight="normal" font-style="normal" fill="#000" stroke="#000" stroke-width="0.17" textLength="60.74" lengthAdjust="spacingAndGlyphs">3902558</text>
<polygon points="323.90,957.24 329.66,960.57 329.66,967.23 323.90,970.56 318.14,967.23 318.14,960.57" fill="#2ca02c" stroke="#000" stroke-width="1.45" stroke-linejoin="miter"/>
<text x="349.34" y="969.20" font-size="14.62" font-weight="normal" font-style="normal" fill="#000" stroke="#000" stroke-width="0.17" textLength="60.96" lengthAdjust="spacingAndGlyphs">4902316</text>
<polygon points="452.60,872.94 459.03,877.61 456.57,885.17 448.63,885.17 446.17,877.61" fill="#4cb54c" stroke="#000" stroke-width="1.45" stroke-linejoin="miter"/>
<text x="478.04" y="885.00" font-size="14.62" font-weight="normal" font-style="normal" fill="#000" stroke="#000" stroke-width="0.17" textLength="60.92" lengthAdjust="spacingAndGlyphs">4902329</text>
<circle cx="452.60" cy="900.75" r="6.24" fill="#6fcc6f" stroke="#000" stroke-width="1.45"/>
<text x="478.04" y="906.05" font-size="14.62" font-weight="normal" font-style="normal" fill="#000" stroke="#000" stroke-width="0.17" textLength="60.72" lengthAdjust="spacingAndGlyphs">4902333</text>
<polygon points="452.60,915.14 458.36,918.47 458.36,925.13 452.60,928.46 446.84,925.13 446.84,918.47" fill="#99e498" stroke="#000" stroke-width="1.45" stroke-linejoin="miter"/>
<text x="478.04" y="927.10" font-size="14.62" font-weight="normal" font-style="normal" fill="#000" stroke="#000" stroke-width="0.17" textLength="60.84" lengthAdjust="spacingAndGlyphs">4903010</text>
<polygon points="452.60,936.09 459.03,940.76 456.57,948.32 448.63,948.32 446.17,940.76" fill="#c6f7c6" stroke="#000" stroke-width="1.45" stroke-linejoin="miter"/>
<text x="478.04" y="948.15" font-size="14.62" font-weight="normal" font-style="normal" fill="#000" stroke="#000" stroke-width="0.17" textLength="60.63" lengthAdjust="spacingAndGlyphs">4903181</text>
<circle cx="452.60" cy="963.90" r="6.24" fill="#d62728" stroke="#000" stroke-width="1.45"/>
<text x="478.04" y="969.20" font-size="14.62" font-weight="normal" font-style="normal" fill="#000" stroke="#000" stroke-width="0.17" textLength="60.72" lengthAdjust="spacingAndGlyphs">4903183</text>
<polygon points="581.30,873.04 587.06,876.37 587.06,883.03 581.30,886.36 575.54,883.03 575.54,876.37" fill="#e14848" stroke="#000" stroke-width="1.45" stroke-linejoin="miter"/>
<text x="606.74" y="885.00" font-size="14.62" font-weight="normal" font-style="normal" fill="#000" stroke="#000" stroke-width="0.17" textLength="60.83" lengthAdjust="spacingAndGlyphs">4903184</text>
<polygon points="581.30,893.99 587.73,898.66 585.27,906.22 577.33,906.22 574.87,898.66" fill="#ec6e6e" stroke="#000" stroke-width="1.45" stroke-linejoin="miter"/>
<text x="606.74" y="906.05" font-size="14.62" font-weight="normal" font-style="normal" fill="#000" stroke="#000" stroke-width="0.17" textLength="60.59" lengthAdjust="spacingAndGlyphs">4903185</text>
<circle cx="581.30" cy="921.80" r="6.24" fill="#f49b9b" stroke="#000" stroke-width="1.45"/>
<text x="606.74" y="927.10" font-size="14.62" font-weight="normal" font-style="normal" fill="#000" stroke="#000" stroke-width="0.17" textLength="60.75" lengthAdjust="spacingAndGlyphs">4903187</text>
<polygon points="581.30,936.19 587.06,939.52 587.06,946.18 581.30,949.51 575.54,946.18 575.54,939.52" fill="#fccccc" stroke="#000" stroke-width="1.45" stroke-linejoin="miter"/>
<text x="606.74" y="948.15" font-size="14.62" font-weight="normal" font-style="normal" fill="#000" stroke="#000" stroke-width="0.17" textLength="60.88" lengthAdjust="spacingAndGlyphs">4903188</text>
<polygon points="581.30,957.14 587.73,961.81 585.27,969.37 577.33,969.37 574.87,961.81" fill="#9467bd" stroke="#000" stroke-width="1.45" stroke-linejoin="miter"/>
<text x="606.74" y="969.20" font-size="14.62" font-weight="normal" font-style="normal" fill="#000" stroke="#000" stroke-width="0.17" textLength="60.59" lengthAdjust="spacingAndGlyphs">4903195</text>
<circle cx="710.00" cy="879.70" r="6.24" fill="#a97ed0" stroke="#000" stroke-width="1.45"/>
<text x="735.44" y="885.00" font-size="14.62" font-weight="normal" font-style="normal" fill="#000" stroke="#000" stroke-width="0.17" textLength="60.84" lengthAdjust="spacingAndGlyphs">4903200</text>
<polygon points="710.00,894.09 715.76,897.42 715.76,904.08 710.00,907.41 704.24,904.08 704.24,897.42" fill="#b690e0" stroke="#000" stroke-width="1.45" stroke-linejoin="miter"/>
<text x="735.44" y="906.05" font-size="14.62" font-weight="normal" font-style="normal" fill="#000" stroke="#000" stroke-width="0.17" textLength="60.83" lengthAdjust="spacingAndGlyphs">4903294</text>
<polygon points="710.00,915.04 716.43,919.71 713.97,927.27 706.03,927.27 703.57,919.71" fill="#cba8f2" stroke="#000" stroke-width="1.45" stroke-linejoin="miter"/>
<text x="735.44" y="927.10" font-size="14.62" font-weight="normal" font-style="normal" fill="#000" stroke="#000" stroke-width="0.17" textLength="60.88" lengthAdjust="spacingAndGlyphs">4903378</text>
<circle cx="710.00" cy="942.85" r="6.24" fill="#e2c6fb" stroke="#000" stroke-width="1.45"/>
<text x="735.44" y="948.15" font-size="14.62" font-weight="normal" font-style="normal" fill="#000" stroke="#000" stroke-width="0.17" textLength="60.84" lengthAdjust="spacingAndGlyphs">4903400</text>
<polygon points="710.00,957.24 715.76,960.57 715.76,967.23 710.00,970.56 704.24,967.23 704.24,960.57" fill="#8c564b" stroke="#000" stroke-width="1.45" stroke-linejoin="miter"/>
<text x="735.44" y="969.20" font-size="14.62" font-weight="normal" font-style="normal" fill="#000" stroke="#000" stroke-width="0.17" textLength="60.96" lengthAdjust="spacingAndGlyphs">4903516</text>
<polygon points="838.70,872.94 845.13,877.61 842.67,885.17 834.73,885.17 832.27,877.61" fill="#a66d5f" stroke="#000" stroke-width="1.45" stroke-linejoin="miter"/>
<text x="864.14" y="885.00" font-size="14.62" font-weight="normal" font-style="normal" fill="#000" stroke="#000" stroke-width="0.17" textLength="60.72" lengthAdjust="spacingAndGlyphs">4903743</text>
<circle cx="838.70" cy="900.75" r="6.24" fill="#c48a7a" stroke="#000" stroke-width="1.45"/>
<text x="864.14" y="906.05" font-size="14.62" font-weight="normal" font-style="normal" fill="#000" stroke="#000" stroke-width="0.17" textLength="60.96" lengthAdjust="spacingAndGlyphs">4903746</text>
<polygon points="838.70,915.14 844.46,918.47 844.46,925.13 838.70,928.46 832.94,925.13 832.94,918.47" fill="#e0a898" stroke="#000" stroke-width="1.45" stroke-linejoin="miter"/>
<text x="863.88" y="927.10" font-size="14.62" font-weight="normal" font-style="normal" fill="#000" stroke="#000" stroke-width="0.17" textLength="60.71" lengthAdjust="spacingAndGlyphs">5905300</text>
<polygon points="838.70,936.09 845.13,940.76 842.67,948.32 834.73,948.32 832.27,940.76" fill="#fdd0c4" stroke="#000" stroke-width="1.45" stroke-linejoin="miter"/>
<text x="863.88" y="948.15" font-size="14.62" font-weight="normal" font-style="normal" fill="#000" stroke="#000" stroke-width="0.17" textLength="60.60" lengthAdjust="spacingAndGlyphs">5906183</text>
<circle cx="838.70" cy="963.90" r="6.24" fill="#e377c2" stroke="#000" stroke-width="1.45"/>
<text x="863.88" y="969.20" font-size="14.62" font-weight="normal" font-style="normal" fill="#000" stroke="#000" stroke-width="0.17" textLength="60.70" lengthAdjust="spacingAndGlyphs">5906294</text>
<polygon points="967.40,873.04 973.16,876.37 973.16,883.03 967.40,886.36 961.64,883.03 961.64,876.37" fill="#e98bd0" stroke="#000" stroke-width="1.45" stroke-linejoin="miter"/>
<text x="992.57" y="885.00" font-size="14.62" font-weight="normal" font-style="normal" fill="#000" stroke="#000" stroke-width="0.17" textLength="60.79" lengthAdjust="spacingAndGlyphs">5906449</text>
<polygon points="967.40,893.99 973.83,898.66 971.37,906.22 963.43,906.22 960.97,898.66" fill="#f09cda" stroke="#000" stroke-width="1.45" stroke-linejoin="miter"/>
<text x="992.58" y="906.05" font-size="14.62" font-weight="normal" font-style="normal" fill="#000" stroke="#000" stroke-width="0.17" textLength="60.75" lengthAdjust="spacingAndGlyphs">5906468</text>
<circle cx="967.40" cy="921.80" r="6.24" fill="#f8b0e6" stroke="#000" stroke-width="1.45"/>
<text x="992.58" y="927.10" font-size="14.62" font-weight="normal" font-style="normal" fill="#000" stroke="#000" stroke-width="0.17" textLength="60.50" lengthAdjust="spacingAndGlyphs">5906481</text>
<polygon points="967.40,936.19 973.16,939.52 973.16,946.18 967.40,949.51 961.64,946.18 961.64,939.52" fill="#fdcaf2" stroke="#000" stroke-width="1.45" stroke-linejoin="miter"/>
<text x="992.58" y="948.15" font-size="14.62" font-weight="normal" font-style="normal" fill="#000" stroke="#000" stroke-width="0.17" textLength="60.42" lengthAdjust="spacingAndGlyphs">5906482</text>
<polygon points="967.40,957.14 973.83,961.81 971.37,969.37 963.43,969.37 960.97,961.81" fill="#7f7f7f" stroke="#000" stroke-width="1.45" stroke-linejoin="miter"/>
<text x="992.58" y="969.20" font-size="14.62" font-weight="normal" font-style="normal" fill="#000" stroke="#000" stroke-width="0.17" textLength="60.62" lengthAdjust="spacingAndGlyphs">5906797</text>
<circle cx="1096.10" cy="879.70" r="6.24" fill="#a09898" stroke="#000" stroke-width="1.45"/>
<text x="1121.28" y="885.00" font-size="14.62" font-weight="normal" font-style="normal" fill="#000" stroke="#000" stroke-width="0.17" textLength="60.75" lengthAdjust="spacingAndGlyphs">5906798</text>
<polygon points="1096.10,894.09 1101.86,897.42 1101.86,904.08 1096.10,907.41 1090.34,904.08 1090.34,897.42" fill="#bba9a9" stroke="#000" stroke-width="1.45" stroke-linejoin="miter"/>
<text x="1121.28" y="906.05" font-size="14.62" font-weight="normal" font-style="normal" fill="#000" stroke="#000" stroke-width="0.17" textLength="60.71" lengthAdjust="spacingAndGlyphs">5906800</text>
<polygon points="1096.10,915.04 1102.53,919.71 1100.07,927.27 1092.13,927.27 1089.67,919.71" fill="#dbb9b9" stroke="#000" stroke-width="1.45" stroke-linejoin="miter"/>
<text x="1121.28" y="927.10" font-size="14.62" font-weight="normal" font-style="normal" fill="#000" stroke="#000" stroke-width="0.17" textLength="60.62" lengthAdjust="spacingAndGlyphs">5906857</text>
<circle cx="1096.10" cy="942.85" r="6.24" fill="#fcc6c0" stroke="#000" stroke-width="1.45"/>
<text x="1121.10" y="948.15" font-size="14.62" font-weight="normal" font-style="normal" fill="#000" stroke="#000" stroke-width="0.17" textLength="60.82" lengthAdjust="spacingAndGlyphs">7901100</text>
<line x1="1081.1" y1="963.9000000000001" x2="1111.1" y2="963.9000000000001" stroke="#1f77b4" stroke-width="2.6"/>
<polygon points="1096.10,956.10 1088.30,971.70 1103.90,971.70" fill="#1f77b4" stroke="#000" stroke-width="1.45" stroke-linejoin="miter"/>
<text x="1121.48" y="969.20" font-size="14.62" font-weight="normal" font-style="normal" fill="#000" stroke="#000" stroke-width="0.17" textLength="41.35" lengthAdjust="spacingAndGlyphs">sg652</text>
<line x1="1209.8" y1="879.7" x2="1239.8" y2="879.7" stroke="#ff7f0e" stroke-width="2.6"/>
<polygon points="1224.80,871.90 1217.00,887.50 1232.60,887.50" fill="#ff7f0e" stroke="#000" stroke-width="1.45" stroke-linejoin="miter"/>
<text x="1250.18" y="885.00" font-size="14.62" font-weight="normal" font-style="normal" fill="#000" stroke="#000" stroke-width="0.17" textLength="41.35" lengthAdjust="spacingAndGlyphs">sg672</text>
<line x1="1209.8" y1="900.75" x2="1239.8" y2="900.75" stroke="#2ca02c" stroke-width="2.6"/>
<polygon points="1224.80,892.95 1217.00,908.55 1232.60,908.55" fill="#2ca02c" stroke="#000" stroke-width="1.45" stroke-linejoin="miter"/>
<text x="1250.18" y="906.05" font-size="14.62" font-weight="normal" font-style="normal" fill="#000" stroke="#000" stroke-width="0.17" textLength="41.53" lengthAdjust="spacingAndGlyphs">sp013</text>
<line x1="1209.8" y1="921.8000000000001" x2="1239.8" y2="921.8000000000001" stroke="#d62728" stroke-width="2.6"/>
<polygon points="1224.80,914.00 1217.00,929.60 1232.60,929.60" fill="#d62728" stroke="#000" stroke-width="1.45" stroke-linejoin="miter"/>
<text x="1250.17" y="927.10" font-size="14.62" font-weight="normal" font-style="normal" fill="#000" stroke="#000" stroke-width="0.17" textLength="41.77" lengthAdjust="spacingAndGlyphs">sp036</text>
<line x1="1209.8" y1="942.85" x2="1239.8" y2="942.85" stroke="#9467bd" stroke-width="2.6"/>
<polygon points="1224.80,935.05 1217.00,950.65 1232.60,950.65" fill="#9467bd" stroke="#000" stroke-width="1.45" stroke-linejoin="miter"/>
<text x="1250.17" y="948.15" font-size="14.62" font-weight="normal" font-style="normal" fill="#000" stroke="#000" stroke-width="0.17" textLength="41.65" lengthAdjust="spacingAndGlyphs">sp040</text>
<line x1="1209.8" y1="963.9000000000001" x2="1239.8" y2="963.9000000000001" stroke="#8c564b" stroke-width="2.6"/>
<polygon points="1224.80,956.10 1217.00,971.70 1232.60,971.70" fill="#8c564b" stroke="#000" stroke-width="1.45" stroke-linejoin="miter"/>
<text x="1250.17" y="969.20" font-size="14.62" font-weight="normal" font-style="normal" fill="#000" stroke="#000" stroke-width="0.17" textLength="41.69" lengthAdjust="spacingAndGlyphs">sp058</text>
</svg></body></html>
